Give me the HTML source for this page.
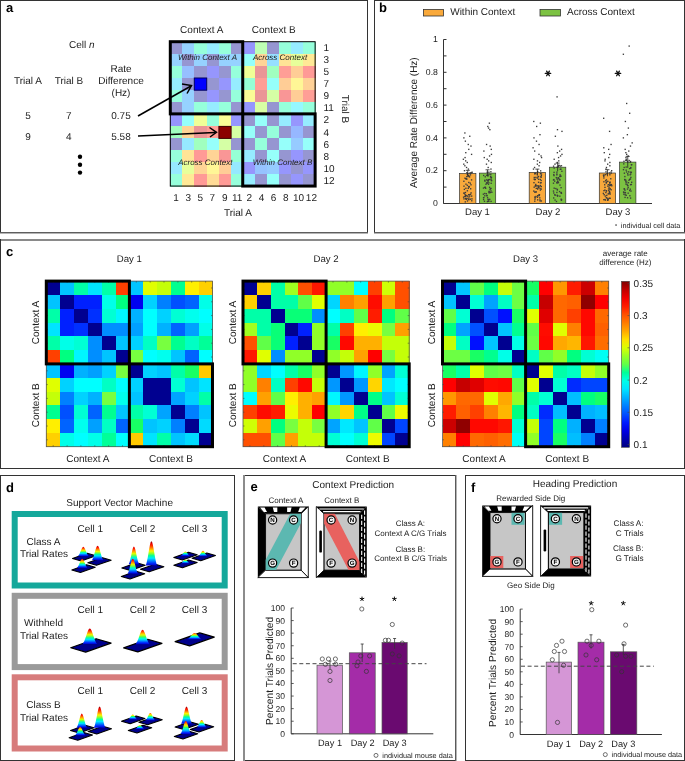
<!DOCTYPE html>
<html><head><meta charset="utf-8"><title>Figure</title>
<style>
html,body{margin:0;padding:0;background:#fff;}
body{width:685px;height:761px;overflow:hidden;}
svg{display:block;will-change:transform;}
svg text{font-family:"Liberation Sans",sans-serif;text-rendering:geometricPrecision;}
</style></head>
<body>
<svg width="685" height="761" viewBox="0 0 685 761" font-family="Liberation Sans, sans-serif" fill="#1c1c1c">
<rect x="0" y="0" width="368" height="1" fill="#333"/>
<rect x="0" y="0" width="1" height="233" fill="#333"/>
<rect x="367" y="0" width="1" height="233" fill="#333"/>
<rect x="0" y="232" width="368" height="1" fill="#5e5e5e"/>
<rect x="0" y="233" width="368" height="1" fill="#b4b4b4"/>
<rect x="374" y="0" width="311" height="1" fill="#333"/>
<rect x="374" y="0" width="1" height="233" fill="#333"/>
<rect x="684" y="0" width="1" height="233" fill="#333"/>
<rect x="374" y="232" width="311" height="1" fill="#5e5e5e"/>
<rect x="374" y="233" width="311" height="1" fill="#b4b4b4"/>
<rect x="0" y="239" width="685" height="2" fill="#8a8a8a"/>
<rect x="0" y="239" width="1" height="230" fill="#333"/>
<rect x="684" y="239" width="1" height="230" fill="#333"/>
<rect x="0" y="468" width="685" height="1" fill="#333"/>
<rect x="0.50" y="475.50" width="234.00" height="285.00" fill="none" stroke="#333" stroke-width="1"/>
<rect x="243" y="475" width="213" height="1" fill="#333"/>
<rect x="243" y="760" width="213" height="1" fill="#333"/>
<rect x="243" y="475" width="2" height="286" fill="#8c8c8c"/>
<rect x="455" y="475" width="1" height="286" fill="#5a5a5a"/>
<rect x="456" y="475" width="1" height="286" fill="#b4b4b4"/>
<rect x="465.50" y="475.50" width="219.00" height="285.00" fill="none" stroke="#333" stroke-width="1"/>
<text x="6" y="12" font-size="13" font-weight="bold" fill="#000">a</text>
<text x="379" y="12" font-size="13" font-weight="bold" fill="#000">b</text>
<text x="6" y="255.5" font-size="13" font-weight="bold" fill="#000">c</text>
<text x="6" y="491.8" font-size="13" font-weight="bold" fill="#000">d</text>
<text x="250.5" y="490.8" font-size="13" font-weight="bold" fill="#000">e</text>
<text x="471" y="491.8" font-size="13" font-weight="bold" fill="#000">f</text>
<text x="69" y="48" font-size="10">Cell <tspan font-style="italic">n</tspan></text>
<text x="121" y="71.5" font-size="10" text-anchor="middle">Rate</text>
<text x="121" y="83.8" font-size="10" text-anchor="middle">Difference</text>
<text x="121" y="96" font-size="10" text-anchor="middle">(Hz)</text>
<text x="28" y="83.8" font-size="10" text-anchor="middle">Trial A</text>
<text x="69" y="83.8" font-size="10" text-anchor="middle">Trial B</text>
<text x="28" y="119" font-size="10" text-anchor="middle">5</text>
<text x="68.7" y="119" font-size="10" text-anchor="middle">7</text>
<text x="121" y="119" font-size="10" text-anchor="middle">0.75</text>
<text x="28" y="139.5" font-size="10" text-anchor="middle">9</text>
<text x="68.7" y="139.5" font-size="10" text-anchor="middle">4</text>
<text x="121" y="139.5" font-size="10" text-anchor="middle">5.58</text>
<circle cx="80" cy="156.7" r="2.2" fill="#000"/>
<circle cx="80" cy="164.7" r="2.2" fill="#000"/>
<circle cx="80" cy="172.6" r="2.2" fill="#000"/>
<rect x="170.30" y="41.70" width="12.57" height="12.53" fill="#9696d1" shape-rendering="crispEdges"/>
<rect x="182.37" y="41.70" width="12.57" height="12.53" fill="#96d2ff" shape-rendering="crispEdges"/>
<rect x="194.44" y="41.70" width="12.57" height="12.53" fill="#96ffdb" shape-rendering="crispEdges"/>
<rect x="206.51" y="41.70" width="12.57" height="12.53" fill="#96ecff" shape-rendering="crispEdges"/>
<rect x="218.58" y="41.70" width="12.57" height="12.53" fill="#96ffdb" shape-rendering="crispEdges"/>
<rect x="230.65" y="41.70" width="12.57" height="12.53" fill="#9696d1" shape-rendering="crispEdges"/>
<rect x="170.30" y="53.73" width="12.57" height="12.53" fill="#96d2ff" shape-rendering="crispEdges"/>
<rect x="182.37" y="53.73" width="12.57" height="12.53" fill="#9696d1" shape-rendering="crispEdges"/>
<rect x="194.44" y="53.73" width="12.57" height="12.53" fill="#96d2ff" shape-rendering="crispEdges"/>
<rect x="206.51" y="53.73" width="12.57" height="12.53" fill="#9696d1" shape-rendering="crispEdges"/>
<rect x="218.58" y="53.73" width="12.57" height="12.53" fill="#96d2ff" shape-rendering="crispEdges"/>
<rect x="230.65" y="53.73" width="12.57" height="12.53" fill="#96d2ff" shape-rendering="crispEdges"/>
<rect x="170.30" y="65.76" width="12.57" height="12.53" fill="#96ffdb" shape-rendering="crispEdges"/>
<rect x="182.37" y="65.76" width="12.57" height="12.53" fill="#96bfff" shape-rendering="crispEdges"/>
<rect x="194.44" y="65.76" width="12.57" height="12.53" fill="#9696d1" shape-rendering="crispEdges"/>
<rect x="206.51" y="65.76" width="12.57" height="12.53" fill="#9696fd" shape-rendering="crispEdges"/>
<rect x="218.58" y="65.76" width="12.57" height="12.53" fill="#9696d1" shape-rendering="crispEdges"/>
<rect x="230.65" y="65.76" width="12.57" height="12.53" fill="#96ffdb" shape-rendering="crispEdges"/>
<rect x="170.30" y="77.79" width="12.57" height="12.53" fill="#96ecff" shape-rendering="crispEdges"/>
<rect x="182.37" y="77.79" width="12.57" height="12.53" fill="#9696d1" shape-rendering="crispEdges"/>
<rect x="194.44" y="77.79" width="12.57" height="12.53" fill="#9696ff" shape-rendering="crispEdges"/>
<rect x="206.51" y="77.79" width="12.57" height="12.53" fill="#9696d1" shape-rendering="crispEdges"/>
<rect x="218.58" y="77.79" width="12.57" height="12.53" fill="#9696fd" shape-rendering="crispEdges"/>
<rect x="230.65" y="77.79" width="12.57" height="12.53" fill="#96ecff" shape-rendering="crispEdges"/>
<rect x="170.30" y="89.82" width="12.57" height="12.53" fill="#96ffdb" shape-rendering="crispEdges"/>
<rect x="182.37" y="89.82" width="12.57" height="12.53" fill="#96d2ff" shape-rendering="crispEdges"/>
<rect x="194.44" y="89.82" width="12.57" height="12.53" fill="#9696d1" shape-rendering="crispEdges"/>
<rect x="206.51" y="89.82" width="12.57" height="12.53" fill="#9696fd" shape-rendering="crispEdges"/>
<rect x="218.58" y="89.82" width="12.57" height="12.53" fill="#9696d1" shape-rendering="crispEdges"/>
<rect x="230.65" y="89.82" width="12.57" height="12.53" fill="#96ffdb" shape-rendering="crispEdges"/>
<rect x="170.30" y="101.85" width="12.57" height="12.53" fill="#9696d1" shape-rendering="crispEdges"/>
<rect x="182.37" y="101.85" width="12.57" height="12.53" fill="#96d2ff" shape-rendering="crispEdges"/>
<rect x="194.44" y="101.85" width="12.57" height="12.53" fill="#96ffdb" shape-rendering="crispEdges"/>
<rect x="206.51" y="101.85" width="12.57" height="12.53" fill="#96ecff" shape-rendering="crispEdges"/>
<rect x="218.58" y="101.85" width="12.57" height="12.53" fill="#96ffdb" shape-rendering="crispEdges"/>
<rect x="230.65" y="101.85" width="12.57" height="12.53" fill="#9696d1" shape-rendering="crispEdges"/>
<rect x="242.72" y="41.70" width="12.57" height="12.53" fill="#9696fd" shape-rendering="crispEdges"/>
<rect x="254.79" y="41.70" width="12.57" height="12.53" fill="#beffb4" shape-rendering="crispEdges"/>
<rect x="266.86" y="41.70" width="12.57" height="12.53" fill="#9696d1" shape-rendering="crispEdges"/>
<rect x="278.93" y="41.70" width="12.57" height="12.53" fill="#96ffdb" shape-rendering="crispEdges"/>
<rect x="291.00" y="41.70" width="12.57" height="12.53" fill="#96ecff" shape-rendering="crispEdges"/>
<rect x="303.07" y="41.70" width="12.57" height="12.53" fill="#96ffdb" shape-rendering="crispEdges"/>
<rect x="242.72" y="53.73" width="12.57" height="12.53" fill="#96fffa" shape-rendering="crispEdges"/>
<rect x="254.79" y="53.73" width="12.57" height="12.53" fill="#ffd496" shape-rendering="crispEdges"/>
<rect x="266.86" y="53.73" width="12.57" height="12.53" fill="#96dfff" shape-rendering="crispEdges"/>
<rect x="278.93" y="53.73" width="12.57" height="12.53" fill="#ffe496" shape-rendering="crispEdges"/>
<rect x="291.00" y="53.73" width="12.57" height="12.53" fill="#e7ff9a" shape-rendering="crispEdges"/>
<rect x="303.07" y="53.73" width="12.57" height="12.53" fill="#ffe996" shape-rendering="crispEdges"/>
<rect x="242.72" y="65.76" width="12.57" height="12.53" fill="#f0ff97" shape-rendering="crispEdges"/>
<rect x="254.79" y="65.76" width="12.57" height="12.53" fill="#ea9696" shape-rendering="crispEdges"/>
<rect x="266.86" y="65.76" width="12.57" height="12.53" fill="#a0ffbf" shape-rendering="crispEdges"/>
<rect x="278.93" y="65.76" width="12.57" height="12.53" fill="#ff9e96" shape-rendering="crispEdges"/>
<rect x="291.00" y="65.76" width="12.57" height="12.53" fill="#ffcd96" shape-rendering="crispEdges"/>
<rect x="303.07" y="65.76" width="12.57" height="12.53" fill="#ff9a96" shape-rendering="crispEdges"/>
<rect x="242.72" y="77.79" width="12.57" height="12.53" fill="#96ffd5" shape-rendering="crispEdges"/>
<rect x="254.79" y="77.79" width="12.57" height="12.53" fill="#ff9e96" shape-rendering="crispEdges"/>
<rect x="266.86" y="77.79" width="12.57" height="12.53" fill="#96fffa" shape-rendering="crispEdges"/>
<rect x="278.93" y="77.79" width="12.57" height="12.53" fill="#ffcd96" shape-rendering="crispEdges"/>
<rect x="291.00" y="77.79" width="12.57" height="12.53" fill="#fff696" shape-rendering="crispEdges"/>
<rect x="303.07" y="77.79" width="12.57" height="12.53" fill="#ffd196" shape-rendering="crispEdges"/>
<rect x="242.72" y="89.82" width="12.57" height="12.53" fill="#fafc96" shape-rendering="crispEdges"/>
<rect x="254.79" y="89.82" width="12.57" height="12.53" fill="#ea9696" shape-rendering="crispEdges"/>
<rect x="266.86" y="89.82" width="12.57" height="12.53" fill="#d5ffa5" shape-rendering="crispEdges"/>
<rect x="278.93" y="89.82" width="12.57" height="12.53" fill="#f99696" shape-rendering="crispEdges"/>
<rect x="291.00" y="89.82" width="12.57" height="12.53" fill="#ffcd96" shape-rendering="crispEdges"/>
<rect x="303.07" y="89.82" width="12.57" height="12.53" fill="#ff9e96" shape-rendering="crispEdges"/>
<rect x="242.72" y="101.85" width="12.57" height="12.53" fill="#9696fd" shape-rendering="crispEdges"/>
<rect x="254.79" y="101.85" width="12.57" height="12.53" fill="#d8ffa4" shape-rendering="crispEdges"/>
<rect x="266.86" y="101.85" width="12.57" height="12.53" fill="#9696d1" shape-rendering="crispEdges"/>
<rect x="278.93" y="101.85" width="12.57" height="12.53" fill="#96ffdb" shape-rendering="crispEdges"/>
<rect x="291.00" y="101.85" width="12.57" height="12.53" fill="#96f8ff" shape-rendering="crispEdges"/>
<rect x="303.07" y="101.85" width="12.57" height="12.53" fill="#96ffdb" shape-rendering="crispEdges"/>
<rect x="170.30" y="113.88" width="12.57" height="12.53" fill="#9696fd" shape-rendering="crispEdges"/>
<rect x="182.37" y="113.88" width="12.57" height="12.53" fill="#96fffa" shape-rendering="crispEdges"/>
<rect x="194.44" y="113.88" width="12.57" height="12.53" fill="#f0ff97" shape-rendering="crispEdges"/>
<rect x="206.51" y="113.88" width="12.57" height="12.53" fill="#96ffdb" shape-rendering="crispEdges"/>
<rect x="218.58" y="113.88" width="12.57" height="12.53" fill="#fafc96" shape-rendering="crispEdges"/>
<rect x="230.65" y="113.88" width="12.57" height="12.53" fill="#9696fd" shape-rendering="crispEdges"/>
<rect x="170.30" y="125.91" width="12.57" height="12.53" fill="#a0ffbf" shape-rendering="crispEdges"/>
<rect x="182.37" y="125.91" width="12.57" height="12.53" fill="#ffd496" shape-rendering="crispEdges"/>
<rect x="194.44" y="125.91" width="12.57" height="12.53" fill="#ea9696" shape-rendering="crispEdges"/>
<rect x="206.51" y="125.91" width="12.57" height="12.53" fill="#ff9e96" shape-rendering="crispEdges"/>
<rect x="218.58" y="125.91" width="12.57" height="12.53" fill="#d19696" shape-rendering="crispEdges"/>
<rect x="230.65" y="125.91" width="12.57" height="12.53" fill="#d5ffa5" shape-rendering="crispEdges"/>
<rect x="170.30" y="137.94" width="12.57" height="12.53" fill="#9696d1" shape-rendering="crispEdges"/>
<rect x="182.37" y="137.94" width="12.57" height="12.53" fill="#96e9ff" shape-rendering="crispEdges"/>
<rect x="194.44" y="137.94" width="12.57" height="12.53" fill="#a0ffbf" shape-rendering="crispEdges"/>
<rect x="206.51" y="137.94" width="12.57" height="12.53" fill="#96fffa" shape-rendering="crispEdges"/>
<rect x="218.58" y="137.94" width="12.57" height="12.53" fill="#d5ffa5" shape-rendering="crispEdges"/>
<rect x="230.65" y="137.94" width="12.57" height="12.53" fill="#9696d1" shape-rendering="crispEdges"/>
<rect x="170.30" y="149.97" width="12.57" height="12.53" fill="#96ffdb" shape-rendering="crispEdges"/>
<rect x="182.37" y="149.97" width="12.57" height="12.53" fill="#ffe496" shape-rendering="crispEdges"/>
<rect x="194.44" y="149.97" width="12.57" height="12.53" fill="#ff9a96" shape-rendering="crispEdges"/>
<rect x="206.51" y="149.97" width="12.57" height="12.53" fill="#ffd496" shape-rendering="crispEdges"/>
<rect x="218.58" y="149.97" width="12.57" height="12.53" fill="#f99696" shape-rendering="crispEdges"/>
<rect x="230.65" y="149.97" width="12.57" height="12.53" fill="#96ffd5" shape-rendering="crispEdges"/>
<rect x="170.30" y="162.00" width="12.57" height="12.53" fill="#96e9ff" shape-rendering="crispEdges"/>
<rect x="182.37" y="162.00" width="12.57" height="12.53" fill="#e7ff9a" shape-rendering="crispEdges"/>
<rect x="194.44" y="162.00" width="12.57" height="12.53" fill="#ffd496" shape-rendering="crispEdges"/>
<rect x="206.51" y="162.00" width="12.57" height="12.53" fill="#fff696" shape-rendering="crispEdges"/>
<rect x="218.58" y="162.00" width="12.57" height="12.53" fill="#ffcd96" shape-rendering="crispEdges"/>
<rect x="230.65" y="162.00" width="12.57" height="12.53" fill="#96e9ff" shape-rendering="crispEdges"/>
<rect x="170.30" y="174.03" width="12.57" height="12.53" fill="#96ffdb" shape-rendering="crispEdges"/>
<rect x="182.37" y="174.03" width="12.57" height="12.53" fill="#ffe996" shape-rendering="crispEdges"/>
<rect x="194.44" y="174.03" width="12.57" height="12.53" fill="#ff9a96" shape-rendering="crispEdges"/>
<rect x="206.51" y="174.03" width="12.57" height="12.53" fill="#ffdb96" shape-rendering="crispEdges"/>
<rect x="218.58" y="174.03" width="12.57" height="12.53" fill="#ff9a96" shape-rendering="crispEdges"/>
<rect x="230.65" y="174.03" width="12.57" height="12.53" fill="#96ffdb" shape-rendering="crispEdges"/>
<rect x="242.72" y="113.88" width="12.57" height="12.53" fill="#9696d1" shape-rendering="crispEdges"/>
<rect x="254.79" y="113.88" width="12.57" height="12.53" fill="#96fffa" shape-rendering="crispEdges"/>
<rect x="266.86" y="113.88" width="12.57" height="12.53" fill="#9696d1" shape-rendering="crispEdges"/>
<rect x="278.93" y="113.88" width="12.57" height="12.53" fill="#96ecff" shape-rendering="crispEdges"/>
<rect x="291.00" y="113.88" width="12.57" height="12.53" fill="#9696fd" shape-rendering="crispEdges"/>
<rect x="303.07" y="113.88" width="12.57" height="12.53" fill="#96ecff" shape-rendering="crispEdges"/>
<rect x="242.72" y="125.91" width="12.57" height="12.53" fill="#96fffa" shape-rendering="crispEdges"/>
<rect x="254.79" y="125.91" width="12.57" height="12.53" fill="#9696d1" shape-rendering="crispEdges"/>
<rect x="266.86" y="125.91" width="12.57" height="12.53" fill="#96ffdb" shape-rendering="crispEdges"/>
<rect x="278.93" y="125.91" width="12.57" height="12.53" fill="#9696d1" shape-rendering="crispEdges"/>
<rect x="291.00" y="125.91" width="12.57" height="12.53" fill="#96b7ff" shape-rendering="crispEdges"/>
<rect x="303.07" y="125.91" width="12.57" height="12.53" fill="#9696d1" shape-rendering="crispEdges"/>
<rect x="242.72" y="137.94" width="12.57" height="12.53" fill="#9696d1" shape-rendering="crispEdges"/>
<rect x="254.79" y="137.94" width="12.57" height="12.53" fill="#96ffdb" shape-rendering="crispEdges"/>
<rect x="266.86" y="137.94" width="12.57" height="12.53" fill="#9696d1" shape-rendering="crispEdges"/>
<rect x="278.93" y="137.94" width="12.57" height="12.53" fill="#96fffa" shape-rendering="crispEdges"/>
<rect x="291.00" y="137.94" width="12.57" height="12.53" fill="#96cbff" shape-rendering="crispEdges"/>
<rect x="303.07" y="137.94" width="12.57" height="12.53" fill="#96fffa" shape-rendering="crispEdges"/>
<rect x="242.72" y="149.97" width="12.57" height="12.53" fill="#96ecff" shape-rendering="crispEdges"/>
<rect x="254.79" y="149.97" width="12.57" height="12.53" fill="#9696d1" shape-rendering="crispEdges"/>
<rect x="266.86" y="149.97" width="12.57" height="12.53" fill="#96fffa" shape-rendering="crispEdges"/>
<rect x="278.93" y="149.97" width="12.57" height="12.53" fill="#9696d1" shape-rendering="crispEdges"/>
<rect x="291.00" y="149.97" width="12.57" height="12.53" fill="#9696fd" shape-rendering="crispEdges"/>
<rect x="303.07" y="149.97" width="12.57" height="12.53" fill="#9696d1" shape-rendering="crispEdges"/>
<rect x="242.72" y="162.00" width="12.57" height="12.53" fill="#9696fd" shape-rendering="crispEdges"/>
<rect x="254.79" y="162.00" width="12.57" height="12.53" fill="#96c3ff" shape-rendering="crispEdges"/>
<rect x="266.86" y="162.00" width="12.57" height="12.53" fill="#96cbff" shape-rendering="crispEdges"/>
<rect x="278.93" y="162.00" width="12.57" height="12.53" fill="#9696fd" shape-rendering="crispEdges"/>
<rect x="291.00" y="162.00" width="12.57" height="12.53" fill="#9696d1" shape-rendering="crispEdges"/>
<rect x="303.07" y="162.00" width="12.57" height="12.53" fill="#9696fd" shape-rendering="crispEdges"/>
<rect x="242.72" y="174.03" width="12.57" height="12.53" fill="#96ecff" shape-rendering="crispEdges"/>
<rect x="254.79" y="174.03" width="12.57" height="12.53" fill="#9696d1" shape-rendering="crispEdges"/>
<rect x="266.86" y="174.03" width="12.57" height="12.53" fill="#96fffa" shape-rendering="crispEdges"/>
<rect x="278.93" y="174.03" width="12.57" height="12.53" fill="#9696d1" shape-rendering="crispEdges"/>
<rect x="291.00" y="174.03" width="12.57" height="12.53" fill="#9696fd" shape-rendering="crispEdges"/>
<rect x="303.07" y="174.03" width="12.57" height="12.53" fill="#9696d1" shape-rendering="crispEdges"/>
<rect x="194.30" y="78.00" width="12.40" height="12.20" fill="#0000ff" stroke="#000060" stroke-width="1"/>
<rect x="218.90" y="126.40" width="12.20" height="12.00" fill="#8b0000" stroke="#400000" stroke-width="1"/>
<rect x="170.30" y="41.70" width="144.84" height="144.36" fill="none" stroke="#000" stroke-width="1"/>
<rect x="170.30" y="41.70" width="72.42" height="72.18" fill="none" stroke="#000" stroke-width="3"/>
<rect x="242.72" y="113.88" width="72.42" height="72.18" fill="none" stroke="#000" stroke-width="3"/>
<text x="207.5" y="60" font-size="8" text-anchor="middle" font-style="italic">Within Context A</text>
<text x="280" y="60" font-size="8" text-anchor="middle" font-style="italic">Across Context</text>
<text x="205.3" y="165" font-size="8" text-anchor="middle" font-style="italic">Across Context</text>
<text x="282.6" y="165" font-size="8" text-anchor="middle" font-style="italic">Within Context B</text>
<g stroke="#000" stroke-width="1.5" fill="none"><line x1="138" y1="116" x2="191" y2="86"/><polyline points="182,84 191.5,85.6 187,93.5"/><line x1="138" y1="136" x2="215" y2="132.5"/><polyline points="209.5,127.5 216.5,132.3 210,137"/></g>
<text x="201.8" y="33.2" font-size="10" text-anchor="middle">Context A</text>
<text x="273.8" y="33.2" font-size="10" text-anchor="middle">Context B</text>
<text x="323.4" y="51.315000000000005" font-size="10">1</text>
<text x="323.4" y="63.345000000000006" font-size="10">3</text>
<text x="323.4" y="75.375" font-size="10">5</text>
<text x="323.4" y="87.405" font-size="10">7</text>
<text x="323.4" y="99.435" font-size="10">9</text>
<text x="323.4" y="111.46499999999999" font-size="10">11</text>
<text x="323.4" y="123.49499999999999" font-size="10">2</text>
<text x="323.4" y="135.525" font-size="10">4</text>
<text x="323.4" y="147.55499999999998" font-size="10">6</text>
<text x="323.4" y="159.585" font-size="10">8</text>
<text x="323.4" y="171.61499999999998" font-size="10">10</text>
<text x="323.4" y="183.645" font-size="10">12</text>
<text x="345.5" y="109" font-size="10" text-anchor="middle" transform="rotate(90 345.5 109)" dy="3.5">Trial B</text>
<text x="176" y="201.2" font-size="10" text-anchor="middle">1</text>
<text x="188.2" y="201.2" font-size="10" text-anchor="middle">3</text>
<text x="200.2" y="201.2" font-size="10" text-anchor="middle">5</text>
<text x="212.4" y="201.2" font-size="10" text-anchor="middle">7</text>
<text x="224.8" y="201.2" font-size="10" text-anchor="middle">9</text>
<text x="237.2" y="201.2" font-size="10" text-anchor="middle">11</text>
<text x="249.2" y="201.2" font-size="10" text-anchor="middle">2</text>
<text x="261.6" y="201.2" font-size="10" text-anchor="middle">4</text>
<text x="273.6" y="201.2" font-size="10" text-anchor="middle">6</text>
<text x="285.9" y="201.2" font-size="10" text-anchor="middle">8</text>
<text x="298.5" y="201.2" font-size="10" text-anchor="middle">10</text>
<text x="311.4" y="201.2" font-size="10" text-anchor="middle">12</text>
<text x="238" y="216.3" font-size="10" text-anchor="middle">Trial A</text>
<rect x="423.50" y="9.50" width="20.00" height="6.50" fill="#f9a93b" stroke="#333" stroke-width="0.8"/>
<text x="450.2" y="15.3" font-size="10">Within Context</text>
<rect x="540.00" y="9.50" width="20.50" height="6.50" fill="#7cc242" stroke="#333" stroke-width="0.8"/>
<text x="567" y="15.3" font-size="10">Across Context</text>
<line x1="443.50" y1="39.50" x2="443.50" y2="203.50" stroke="#333" stroke-width="1" />
<line x1="443.50" y1="203.50" x2="652.00" y2="203.50" stroke="#333" stroke-width="1" />
<line x1="443.50" y1="203.50" x2="446.50" y2="203.50" stroke="#333" stroke-width="1" />
<line x1="443.50" y1="187.10" x2="446.50" y2="187.10" stroke="#333" stroke-width="1" />
<line x1="443.50" y1="170.70" x2="446.50" y2="170.70" stroke="#333" stroke-width="1" />
<line x1="443.50" y1="154.30" x2="446.50" y2="154.30" stroke="#333" stroke-width="1" />
<line x1="443.50" y1="137.90" x2="446.50" y2="137.90" stroke="#333" stroke-width="1" />
<line x1="443.50" y1="121.50" x2="446.50" y2="121.50" stroke="#333" stroke-width="1" />
<line x1="443.50" y1="105.10" x2="446.50" y2="105.10" stroke="#333" stroke-width="1" />
<line x1="443.50" y1="88.70" x2="446.50" y2="88.70" stroke="#333" stroke-width="1" />
<line x1="443.50" y1="72.30" x2="446.50" y2="72.30" stroke="#333" stroke-width="1" />
<line x1="443.50" y1="55.90" x2="446.50" y2="55.90" stroke="#333" stroke-width="1" />
<line x1="443.50" y1="39.50" x2="446.50" y2="39.50" stroke="#333" stroke-width="1" />
<text x="437.9" y="42.1" font-size="8.7" text-anchor="end">1</text>
<text x="437.9" y="74.89999999999998" font-size="8.7" text-anchor="end">0.8</text>
<text x="437.9" y="107.7" font-size="8.7" text-anchor="end">0.6</text>
<text x="437.9" y="140.49999999999997" font-size="8.7" text-anchor="end">0.4</text>
<text x="437.9" y="173.29999999999998" font-size="8.7" text-anchor="end">0.2</text>
<text x="437.9" y="206.1" font-size="8.7" text-anchor="end">0</text>
<text x="413.5" y="122.7" font-size="10" text-anchor="middle" transform="rotate(-90 413.5 122.7)" dy="3.5">Average Rate Difference (Hz)</text>
<rect x="459.60" y="173.60" width="16.30" height="29.90" fill="#f9a93b" stroke="#333" stroke-width="0.7"/>
<rect x="479.40" y="173.10" width="16.30" height="30.40" fill="#7cc242" stroke="#333" stroke-width="0.7"/>
<rect x="529.20" y="172.40" width="16.30" height="31.10" fill="#f9a93b" stroke="#333" stroke-width="0.7"/>
<rect x="549.50" y="167.20" width="16.30" height="36.30" fill="#7cc242" stroke="#333" stroke-width="0.7"/>
<rect x="599.30" y="173.00" width="16.30" height="30.50" fill="#f9a93b" stroke="#333" stroke-width="0.7"/>
<rect x="619.60" y="162.10" width="16.30" height="41.40" fill="#7cc242" stroke="#333" stroke-width="0.7"/>
<g fill="#3c3c3c"><rect x="467.6" y="187.7" width="1.35" height="1.35"/><rect x="466.8" y="173.7" width="1.35" height="1.35"/><rect x="467.9" y="186.1" width="1.35" height="1.35"/><rect x="467.2" y="195.7" width="1.35" height="1.35"/><rect x="469.6" y="182.5" width="1.35" height="1.35"/><rect x="465.4" y="198.4" width="1.35" height="1.35"/><rect x="469.8" y="198.5" width="1.35" height="1.35"/><rect x="463.2" y="180.6" width="1.35" height="1.35"/><rect x="471.1" y="172.0" width="1.35" height="1.35"/><rect x="468.1" y="181.8" width="1.35" height="1.35"/><rect x="462.9" y="196.5" width="1.35" height="1.35"/><rect x="463.3" y="185.5" width="1.35" height="1.35"/><rect x="464.9" y="195.6" width="1.35" height="1.35"/><rect x="466.8" y="200.3" width="1.35" height="1.35"/><rect x="470.0" y="188.1" width="1.35" height="1.35"/><rect x="468.3" y="185.8" width="1.35" height="1.35"/><rect x="468.5" y="186.3" width="1.35" height="1.35"/><rect x="465.2" y="187.6" width="1.35" height="1.35"/><rect x="471.4" y="171.5" width="1.35" height="1.35"/><rect x="468.9" y="176.2" width="1.35" height="1.35"/><rect x="464.8" y="191.8" width="1.35" height="1.35"/><rect x="463.4" y="192.6" width="1.35" height="1.35"/><rect x="466.2" y="178.4" width="1.35" height="1.35"/><rect x="466.1" y="176.0" width="1.35" height="1.35"/><rect x="470.1" y="172.7" width="1.35" height="1.35"/><rect x="464.6" y="201.2" width="1.35" height="1.35"/><rect x="466.8" y="174.1" width="1.35" height="1.35"/><rect x="466.2" y="172.0" width="1.35" height="1.35"/><rect x="468.2" y="199.0" width="1.35" height="1.35"/><rect x="465.1" y="178.0" width="1.35" height="1.35"/><rect x="465.7" y="198.6" width="1.35" height="1.35"/><rect x="469.3" y="172.5" width="1.35" height="1.35"/><rect x="464.9" y="197.7" width="1.35" height="1.35"/><rect x="463.3" y="198.2" width="1.35" height="1.35"/><rect x="464.3" y="177.5" width="1.35" height="1.35"/><rect x="466.6" y="184.6" width="1.35" height="1.35"/><rect x="469.1" y="195.5" width="1.35" height="1.35"/><rect x="468.3" y="197.3" width="1.35" height="1.35"/><rect x="466.4" y="197.7" width="1.35" height="1.35"/><rect x="465.1" y="194.9" width="1.35" height="1.35"/><rect x="469.7" y="172.3" width="1.35" height="1.35"/><rect x="470.4" y="192.2" width="1.35" height="1.35"/><rect x="466.2" y="194.9" width="1.35" height="1.35"/><rect x="468.3" y="175.8" width="1.35" height="1.35"/><rect x="471.3" y="198.2" width="1.35" height="1.35"/><rect x="465.0" y="194.9" width="1.35" height="1.35"/><rect x="465.6" y="178.2" width="1.35" height="1.35"/><rect x="463.4" y="192.4" width="1.35" height="1.35"/><rect x="467.8" y="198.5" width="1.35" height="1.35"/><rect x="468.0" y="194.0" width="1.35" height="1.35"/><rect x="466.7" y="190.1" width="1.35" height="1.35"/><rect x="467.0" y="172.7" width="1.35" height="1.35"/><rect x="470.3" y="184.1" width="1.35" height="1.35"/><rect x="464.1" y="195.8" width="1.35" height="1.35"/><rect x="469.8" y="174.2" width="1.35" height="1.35"/><rect x="464.4" y="193.8" width="1.35" height="1.35"/><rect x="470.9" y="179.2" width="1.35" height="1.35"/><rect x="471.0" y="195.4" width="1.35" height="1.35"/><rect x="468.0" y="175.0" width="1.35" height="1.35"/><rect x="463.7" y="188.7" width="1.35" height="1.35"/><rect x="471.1" y="200.1" width="1.35" height="1.35"/><rect x="468.9" y="194.1" width="1.35" height="1.35"/><rect x="469.9" y="193.6" width="1.35" height="1.35"/><rect x="465.3" y="183.5" width="1.35" height="1.35"/><rect x="464.2" y="132.3" width="1.35" height="1.35"/><rect x="469.1" y="135.6" width="1.35" height="1.35"/><rect x="463.2" y="137.2" width="1.35" height="1.35"/><rect x="464.7" y="140.5" width="1.35" height="1.35"/><rect x="467.6" y="143.8" width="1.35" height="1.35"/><rect x="470.3" y="145.4" width="1.35" height="1.35"/><rect x="468.1" y="148.7" width="1.35" height="1.35"/><rect x="465.1" y="152.0" width="1.35" height="1.35"/><rect x="470.9" y="153.7" width="1.35" height="1.35"/><rect x="464.4" y="156.9" width="1.35" height="1.35"/><rect x="462.7" y="158.6" width="1.35" height="1.35"/><rect x="465.0" y="160.2" width="1.35" height="1.35"/><rect x="466.6" y="161.8" width="1.35" height="1.35"/><rect x="463.1" y="163.5" width="1.35" height="1.35"/><rect x="464.2" y="165.1" width="1.35" height="1.35"/><rect x="465.9" y="166.8" width="1.35" height="1.35"/><rect x="467.7" y="168.4" width="1.35" height="1.35"/><rect x="463.8" y="170.0" width="1.35" height="1.35"/><rect x="490.3" y="190.2" width="1.35" height="1.35"/><rect x="488.2" y="171.5" width="1.35" height="1.35"/><rect x="487.6" y="180.3" width="1.35" height="1.35"/><rect x="482.9" y="197.0" width="1.35" height="1.35"/><rect x="490.4" y="200.7" width="1.35" height="1.35"/><rect x="490.9" y="180.0" width="1.35" height="1.35"/><rect x="488.1" y="200.6" width="1.35" height="1.35"/><rect x="488.9" y="186.6" width="1.35" height="1.35"/><rect x="491.2" y="191.6" width="1.35" height="1.35"/><rect x="487.3" y="198.9" width="1.35" height="1.35"/><rect x="490.3" y="178.9" width="1.35" height="1.35"/><rect x="488.7" y="178.9" width="1.35" height="1.35"/><rect x="490.5" y="177.2" width="1.35" height="1.35"/><rect x="488.5" y="190.6" width="1.35" height="1.35"/><rect x="490.1" y="173.9" width="1.35" height="1.35"/><rect x="489.4" y="188.6" width="1.35" height="1.35"/><rect x="487.5" y="175.1" width="1.35" height="1.35"/><rect x="485.9" y="182.3" width="1.35" height="1.35"/><rect x="487.8" y="183.6" width="1.35" height="1.35"/><rect x="488.1" y="198.8" width="1.35" height="1.35"/><rect x="490.2" y="171.1" width="1.35" height="1.35"/><rect x="485.9" y="179.2" width="1.35" height="1.35"/><rect x="487.6" y="179.0" width="1.35" height="1.35"/><rect x="489.8" y="187.9" width="1.35" height="1.35"/><rect x="489.1" y="198.7" width="1.35" height="1.35"/><rect x="487.8" y="200.3" width="1.35" height="1.35"/><rect x="484.6" y="186.6" width="1.35" height="1.35"/><rect x="486.9" y="180.1" width="1.35" height="1.35"/><rect x="490.5" y="182.6" width="1.35" height="1.35"/><rect x="482.7" y="193.5" width="1.35" height="1.35"/><rect x="488.4" y="192.1" width="1.35" height="1.35"/><rect x="484.1" y="195.1" width="1.35" height="1.35"/><rect x="488.3" y="173.8" width="1.35" height="1.35"/><rect x="490.3" y="187.8" width="1.35" height="1.35"/><rect x="488.3" y="191.3" width="1.35" height="1.35"/><rect x="486.3" y="195.2" width="1.35" height="1.35"/><rect x="490.5" y="176.8" width="1.35" height="1.35"/><rect x="485.9" y="174.6" width="1.35" height="1.35"/><rect x="485.3" y="183.6" width="1.35" height="1.35"/><rect x="486.9" y="197.1" width="1.35" height="1.35"/><rect x="489.9" y="175.9" width="1.35" height="1.35"/><rect x="490.8" y="179.7" width="1.35" height="1.35"/><rect x="484.1" y="192.8" width="1.35" height="1.35"/><rect x="485.0" y="187.6" width="1.35" height="1.35"/><rect x="486.2" y="194.7" width="1.35" height="1.35"/><rect x="486.8" y="182.3" width="1.35" height="1.35"/><rect x="489.8" y="191.7" width="1.35" height="1.35"/><rect x="486.5" y="171.5" width="1.35" height="1.35"/><rect x="482.9" y="198.9" width="1.35" height="1.35"/><rect x="483.0" y="174.8" width="1.35" height="1.35"/><rect x="487.5" y="179.8" width="1.35" height="1.35"/><rect x="489.4" y="191.9" width="1.35" height="1.35"/><rect x="483.8" y="200.6" width="1.35" height="1.35"/><rect x="482.8" y="187.4" width="1.35" height="1.35"/><rect x="484.6" y="176.1" width="1.35" height="1.35"/><rect x="483.0" y="196.9" width="1.35" height="1.35"/><rect x="486.4" y="182.2" width="1.35" height="1.35"/><rect x="488.2" y="182.1" width="1.35" height="1.35"/><rect x="490.8" y="176.8" width="1.35" height="1.35"/><rect x="484.3" y="180.5" width="1.35" height="1.35"/><rect x="484.1" y="186.8" width="1.35" height="1.35"/><rect x="486.7" y="200.9" width="1.35" height="1.35"/><rect x="484.1" y="179.6" width="1.35" height="1.35"/><rect x="485.6" y="193.0" width="1.35" height="1.35"/><rect x="488.7" y="122.5" width="1.35" height="1.35"/><rect x="487.1" y="125.8" width="1.35" height="1.35"/><rect x="487.9" y="127.4" width="1.35" height="1.35"/><rect x="489.2" y="129.0" width="1.35" height="1.35"/><rect x="485.9" y="143.8" width="1.35" height="1.35"/><rect x="489.5" y="145.4" width="1.35" height="1.35"/><rect x="490.6" y="148.7" width="1.35" height="1.35"/><rect x="483.2" y="150.4" width="1.35" height="1.35"/><rect x="490.8" y="153.7" width="1.35" height="1.35"/><rect x="488.9" y="155.3" width="1.35" height="1.35"/><rect x="483.6" y="156.9" width="1.35" height="1.35"/><rect x="486.5" y="158.6" width="1.35" height="1.35"/><rect x="488.0" y="160.2" width="1.35" height="1.35"/><rect x="490.6" y="161.8" width="1.35" height="1.35"/><rect x="485.8" y="163.5" width="1.35" height="1.35"/><rect x="487.5" y="166.8" width="1.35" height="1.35"/><rect x="490.3" y="168.4" width="1.35" height="1.35"/><rect x="540.5" y="176.5" width="1.35" height="1.35"/><rect x="538.0" y="186.8" width="1.35" height="1.35"/><rect x="538.6" y="194.9" width="1.35" height="1.35"/><rect x="537.9" y="175.8" width="1.35" height="1.35"/><rect x="534.2" y="179.0" width="1.35" height="1.35"/><rect x="540.8" y="173.3" width="1.35" height="1.35"/><rect x="537.0" y="170.9" width="1.35" height="1.35"/><rect x="535.2" y="176.7" width="1.35" height="1.35"/><rect x="539.8" y="173.0" width="1.35" height="1.35"/><rect x="533.1" y="190.4" width="1.35" height="1.35"/><rect x="537.1" y="187.5" width="1.35" height="1.35"/><rect x="536.6" y="177.4" width="1.35" height="1.35"/><rect x="539.4" y="200.3" width="1.35" height="1.35"/><rect x="539.3" y="199.2" width="1.35" height="1.35"/><rect x="535.3" y="195.8" width="1.35" height="1.35"/><rect x="533.6" y="176.8" width="1.35" height="1.35"/><rect x="536.8" y="196.6" width="1.35" height="1.35"/><rect x="539.6" y="178.8" width="1.35" height="1.35"/><rect x="540.5" y="179.8" width="1.35" height="1.35"/><rect x="540.6" y="185.9" width="1.35" height="1.35"/><rect x="534.3" y="198.5" width="1.35" height="1.35"/><rect x="534.9" y="184.9" width="1.35" height="1.35"/><rect x="537.9" y="178.6" width="1.35" height="1.35"/><rect x="539.7" y="185.0" width="1.35" height="1.35"/><rect x="535.1" y="183.8" width="1.35" height="1.35"/><rect x="539.7" y="189.4" width="1.35" height="1.35"/><rect x="534.2" y="173.3" width="1.35" height="1.35"/><rect x="540.7" y="174.8" width="1.35" height="1.35"/><rect x="537.3" y="185.0" width="1.35" height="1.35"/><rect x="537.0" y="195.0" width="1.35" height="1.35"/><rect x="537.6" y="185.6" width="1.35" height="1.35"/><rect x="540.7" y="200.3" width="1.35" height="1.35"/><rect x="535.8" y="185.2" width="1.35" height="1.35"/><rect x="537.2" y="176.4" width="1.35" height="1.35"/><rect x="538.3" y="186.0" width="1.35" height="1.35"/><rect x="537.0" y="199.2" width="1.35" height="1.35"/><rect x="540.6" y="188.4" width="1.35" height="1.35"/><rect x="534.7" y="172.6" width="1.35" height="1.35"/><rect x="533.5" y="186.5" width="1.35" height="1.35"/><rect x="539.4" y="187.8" width="1.35" height="1.35"/><rect x="536.5" y="173.3" width="1.35" height="1.35"/><rect x="534.0" y="191.4" width="1.35" height="1.35"/><rect x="540.4" y="182.0" width="1.35" height="1.35"/><rect x="539.1" y="197.2" width="1.35" height="1.35"/><rect x="534.1" y="200.5" width="1.35" height="1.35"/><rect x="538.3" y="194.2" width="1.35" height="1.35"/><rect x="535.5" y="191.2" width="1.35" height="1.35"/><rect x="533.3" y="182.0" width="1.35" height="1.35"/><rect x="533.5" y="178.5" width="1.35" height="1.35"/><rect x="534.6" y="185.4" width="1.35" height="1.35"/><rect x="537.0" y="195.1" width="1.35" height="1.35"/><rect x="535.6" y="187.7" width="1.35" height="1.35"/><rect x="537.0" y="188.4" width="1.35" height="1.35"/><rect x="534.2" y="196.3" width="1.35" height="1.35"/><rect x="537.9" y="181.6" width="1.35" height="1.35"/><rect x="539.7" y="184.8" width="1.35" height="1.35"/><rect x="539.8" y="182.2" width="1.35" height="1.35"/><rect x="538.8" y="194.0" width="1.35" height="1.35"/><rect x="540.2" y="176.1" width="1.35" height="1.35"/><rect x="535.1" y="191.4" width="1.35" height="1.35"/><rect x="534.3" y="172.6" width="1.35" height="1.35"/><rect x="540.0" y="170.2" width="1.35" height="1.35"/><rect x="534.5" y="197.1" width="1.35" height="1.35"/><rect x="534.6" y="178.7" width="1.35" height="1.35"/><rect x="533.1" y="120.8" width="1.35" height="1.35"/><rect x="539.7" y="122.5" width="1.35" height="1.35"/><rect x="536.0" y="125.8" width="1.35" height="1.35"/><rect x="539.3" y="134.0" width="1.35" height="1.35"/><rect x="533.3" y="137.2" width="1.35" height="1.35"/><rect x="535.8" y="140.5" width="1.35" height="1.35"/><rect x="538.4" y="143.8" width="1.35" height="1.35"/><rect x="532.4" y="147.1" width="1.35" height="1.35"/><rect x="534.0" y="150.4" width="1.35" height="1.35"/><rect x="538.3" y="153.7" width="1.35" height="1.35"/><rect x="540.4" y="155.3" width="1.35" height="1.35"/><rect x="540.9" y="156.9" width="1.35" height="1.35"/><rect x="533.2" y="158.6" width="1.35" height="1.35"/><rect x="536.8" y="160.2" width="1.35" height="1.35"/><rect x="539.0" y="161.8" width="1.35" height="1.35"/><rect x="536.7" y="163.5" width="1.35" height="1.35"/><rect x="538.4" y="165.1" width="1.35" height="1.35"/><rect x="533.9" y="166.8" width="1.35" height="1.35"/><rect x="532.8" y="168.4" width="1.35" height="1.35"/><rect x="553.0" y="197.3" width="1.35" height="1.35"/><rect x="557.1" y="181.1" width="1.35" height="1.35"/><rect x="554.0" y="180.5" width="1.35" height="1.35"/><rect x="554.5" y="194.5" width="1.35" height="1.35"/><rect x="561.2" y="170.6" width="1.35" height="1.35"/><rect x="553.5" y="167.4" width="1.35" height="1.35"/><rect x="560.9" y="199.0" width="1.35" height="1.35"/><rect x="559.3" y="184.4" width="1.35" height="1.35"/><rect x="556.7" y="189.3" width="1.35" height="1.35"/><rect x="556.4" y="182.4" width="1.35" height="1.35"/><rect x="552.8" y="179.3" width="1.35" height="1.35"/><rect x="560.0" y="175.6" width="1.35" height="1.35"/><rect x="556.6" y="194.6" width="1.35" height="1.35"/><rect x="556.2" y="174.2" width="1.35" height="1.35"/><rect x="554.1" y="194.1" width="1.35" height="1.35"/><rect x="552.8" y="182.5" width="1.35" height="1.35"/><rect x="559.6" y="168.6" width="1.35" height="1.35"/><rect x="560.1" y="175.5" width="1.35" height="1.35"/><rect x="556.2" y="178.3" width="1.35" height="1.35"/><rect x="557.0" y="179.3" width="1.35" height="1.35"/><rect x="559.6" y="165.4" width="1.35" height="1.35"/><rect x="560.5" y="191.8" width="1.35" height="1.35"/><rect x="559.4" y="174.1" width="1.35" height="1.35"/><rect x="556.2" y="171.5" width="1.35" height="1.35"/><rect x="560.3" y="168.5" width="1.35" height="1.35"/><rect x="559.3" y="175.9" width="1.35" height="1.35"/><rect x="556.2" y="173.3" width="1.35" height="1.35"/><rect x="553.3" y="174.9" width="1.35" height="1.35"/><rect x="556.7" y="188.7" width="1.35" height="1.35"/><rect x="555.8" y="200.8" width="1.35" height="1.35"/><rect x="558.1" y="177.9" width="1.35" height="1.35"/><rect x="560.8" y="192.7" width="1.35" height="1.35"/><rect x="555.6" y="176.9" width="1.35" height="1.35"/><rect x="557.6" y="177.1" width="1.35" height="1.35"/><rect x="556.1" y="181.8" width="1.35" height="1.35"/><rect x="558.2" y="164.7" width="1.35" height="1.35"/><rect x="559.3" y="175.6" width="1.35" height="1.35"/><rect x="552.9" y="165.5" width="1.35" height="1.35"/><rect x="559.1" y="178.8" width="1.35" height="1.35"/><rect x="556.2" y="191.8" width="1.35" height="1.35"/><rect x="554.4" y="199.4" width="1.35" height="1.35"/><rect x="553.5" y="187.5" width="1.35" height="1.35"/><rect x="560.5" y="192.1" width="1.35" height="1.35"/><rect x="557.1" y="181.1" width="1.35" height="1.35"/><rect x="557.6" y="165.9" width="1.35" height="1.35"/><rect x="558.2" y="164.9" width="1.35" height="1.35"/><rect x="553.4" y="171.7" width="1.35" height="1.35"/><rect x="559.2" y="179.4" width="1.35" height="1.35"/><rect x="560.7" y="199.6" width="1.35" height="1.35"/><rect x="556.8" y="195.4" width="1.35" height="1.35"/><rect x="557.0" y="195.0" width="1.35" height="1.35"/><rect x="553.2" y="178.9" width="1.35" height="1.35"/><rect x="556.3" y="166.7" width="1.35" height="1.35"/><rect x="557.8" y="182.0" width="1.35" height="1.35"/><rect x="555.2" y="187.9" width="1.35" height="1.35"/><rect x="557.5" y="177.3" width="1.35" height="1.35"/><rect x="558.9" y="190.9" width="1.35" height="1.35"/><rect x="552.8" y="190.4" width="1.35" height="1.35"/><rect x="553.1" y="192.3" width="1.35" height="1.35"/><rect x="559.2" y="195.5" width="1.35" height="1.35"/><rect x="560.4" y="187.0" width="1.35" height="1.35"/><rect x="553.1" y="173.9" width="1.35" height="1.35"/><rect x="560.8" y="165.1" width="1.35" height="1.35"/><rect x="560.5" y="198.5" width="1.35" height="1.35"/><rect x="556.4" y="96.2" width="1.35" height="1.35"/><rect x="556.8" y="129.0" width="1.35" height="1.35"/><rect x="561.3" y="130.7" width="1.35" height="1.35"/><rect x="554.7" y="135.6" width="1.35" height="1.35"/><rect x="557.2" y="145.4" width="1.35" height="1.35"/><rect x="560.9" y="148.7" width="1.35" height="1.35"/><rect x="559.0" y="150.4" width="1.35" height="1.35"/><rect x="556.7" y="152.0" width="1.35" height="1.35"/><rect x="561.3" y="153.7" width="1.35" height="1.35"/><rect x="559.9" y="155.3" width="1.35" height="1.35"/><rect x="557.9" y="156.9" width="1.35" height="1.35"/><rect x="553.5" y="158.6" width="1.35" height="1.35"/><rect x="558.1" y="160.2" width="1.35" height="1.35"/><rect x="556.6" y="161.8" width="1.35" height="1.35"/><rect x="554.3" y="163.5" width="1.35" height="1.35"/><rect x="607.0" y="199.6" width="1.35" height="1.35"/><rect x="606.3" y="197.4" width="1.35" height="1.35"/><rect x="606.4" y="180.9" width="1.35" height="1.35"/><rect x="607.5" y="193.2" width="1.35" height="1.35"/><rect x="609.2" y="188.5" width="1.35" height="1.35"/><rect x="611.1" y="185.1" width="1.35" height="1.35"/><rect x="608.8" y="172.3" width="1.35" height="1.35"/><rect x="603.5" y="194.0" width="1.35" height="1.35"/><rect x="609.2" y="174.1" width="1.35" height="1.35"/><rect x="605.6" y="182.2" width="1.35" height="1.35"/><rect x="608.4" y="193.0" width="1.35" height="1.35"/><rect x="607.6" y="184.0" width="1.35" height="1.35"/><rect x="609.0" y="182.0" width="1.35" height="1.35"/><rect x="604.6" y="195.4" width="1.35" height="1.35"/><rect x="610.4" y="171.4" width="1.35" height="1.35"/><rect x="602.8" y="174.5" width="1.35" height="1.35"/><rect x="604.8" y="199.4" width="1.35" height="1.35"/><rect x="607.9" y="188.3" width="1.35" height="1.35"/><rect x="607.2" y="198.1" width="1.35" height="1.35"/><rect x="603.2" y="199.0" width="1.35" height="1.35"/><rect x="607.2" y="180.7" width="1.35" height="1.35"/><rect x="605.7" y="182.0" width="1.35" height="1.35"/><rect x="604.3" y="186.7" width="1.35" height="1.35"/><rect x="608.9" y="190.8" width="1.35" height="1.35"/><rect x="603.1" y="175.7" width="1.35" height="1.35"/><rect x="609.5" y="197.6" width="1.35" height="1.35"/><rect x="609.1" y="182.3" width="1.35" height="1.35"/><rect x="606.1" y="194.7" width="1.35" height="1.35"/><rect x="609.5" y="193.4" width="1.35" height="1.35"/><rect x="608.1" y="190.0" width="1.35" height="1.35"/><rect x="605.3" y="171.2" width="1.35" height="1.35"/><rect x="608.9" y="184.5" width="1.35" height="1.35"/><rect x="606.2" y="173.2" width="1.35" height="1.35"/><rect x="603.3" y="190.0" width="1.35" height="1.35"/><rect x="603.2" y="174.6" width="1.35" height="1.35"/><rect x="607.4" y="198.7" width="1.35" height="1.35"/><rect x="608.4" y="186.5" width="1.35" height="1.35"/><rect x="609.2" y="192.1" width="1.35" height="1.35"/><rect x="604.3" y="198.9" width="1.35" height="1.35"/><rect x="603.2" y="181.1" width="1.35" height="1.35"/><rect x="608.7" y="192.0" width="1.35" height="1.35"/><rect x="604.9" y="180.1" width="1.35" height="1.35"/><rect x="605.6" y="196.9" width="1.35" height="1.35"/><rect x="605.7" y="179.2" width="1.35" height="1.35"/><rect x="608.6" y="197.6" width="1.35" height="1.35"/><rect x="610.4" y="183.9" width="1.35" height="1.35"/><rect x="610.4" y="172.7" width="1.35" height="1.35"/><rect x="609.4" y="187.9" width="1.35" height="1.35"/><rect x="605.2" y="191.9" width="1.35" height="1.35"/><rect x="610.5" y="189.1" width="1.35" height="1.35"/><rect x="604.6" y="174.0" width="1.35" height="1.35"/><rect x="605.6" y="190.2" width="1.35" height="1.35"/><rect x="605.9" y="190.2" width="1.35" height="1.35"/><rect x="604.2" y="189.4" width="1.35" height="1.35"/><rect x="609.4" y="184.1" width="1.35" height="1.35"/><rect x="609.7" y="184.8" width="1.35" height="1.35"/><rect x="604.0" y="184.1" width="1.35" height="1.35"/><rect x="610.1" y="178.1" width="1.35" height="1.35"/><rect x="602.7" y="192.7" width="1.35" height="1.35"/><rect x="607.2" y="185.5" width="1.35" height="1.35"/><rect x="610.8" y="184.0" width="1.35" height="1.35"/><rect x="609.4" y="181.4" width="1.35" height="1.35"/><rect x="607.2" y="199.3" width="1.35" height="1.35"/><rect x="603.2" y="177.3" width="1.35" height="1.35"/><rect x="603.0" y="117.6" width="1.35" height="1.35"/><rect x="608.9" y="130.7" width="1.35" height="1.35"/><rect x="610.4" y="143.8" width="1.35" height="1.35"/><rect x="603.1" y="147.1" width="1.35" height="1.35"/><rect x="608.0" y="148.7" width="1.35" height="1.35"/><rect x="603.6" y="152.0" width="1.35" height="1.35"/><rect x="609.0" y="153.7" width="1.35" height="1.35"/><rect x="608.1" y="156.9" width="1.35" height="1.35"/><rect x="604.5" y="158.6" width="1.35" height="1.35"/><rect x="604.3" y="160.2" width="1.35" height="1.35"/><rect x="609.2" y="161.8" width="1.35" height="1.35"/><rect x="607.0" y="163.5" width="1.35" height="1.35"/><rect x="609.2" y="165.1" width="1.35" height="1.35"/><rect x="605.8" y="166.8" width="1.35" height="1.35"/><rect x="605.3" y="168.4" width="1.35" height="1.35"/><rect x="611.0" y="170.0" width="1.35" height="1.35"/><rect x="627.0" y="173.1" width="1.35" height="1.35"/><rect x="629.0" y="178.7" width="1.35" height="1.35"/><rect x="630.7" y="171.6" width="1.35" height="1.35"/><rect x="629.9" y="184.0" width="1.35" height="1.35"/><rect x="630.1" y="173.3" width="1.35" height="1.35"/><rect x="630.0" y="167.5" width="1.35" height="1.35"/><rect x="631.0" y="164.0" width="1.35" height="1.35"/><rect x="627.3" y="174.4" width="1.35" height="1.35"/><rect x="629.7" y="171.5" width="1.35" height="1.35"/><rect x="626.4" y="183.6" width="1.35" height="1.35"/><rect x="629.2" y="195.1" width="1.35" height="1.35"/><rect x="626.0" y="159.8" width="1.35" height="1.35"/><rect x="624.6" y="194.2" width="1.35" height="1.35"/><rect x="625.3" y="183.4" width="1.35" height="1.35"/><rect x="623.3" y="160.6" width="1.35" height="1.35"/><rect x="623.8" y="188.3" width="1.35" height="1.35"/><rect x="629.5" y="174.1" width="1.35" height="1.35"/><rect x="623.3" y="193.7" width="1.35" height="1.35"/><rect x="627.8" y="182.0" width="1.35" height="1.35"/><rect x="623.1" y="163.2" width="1.35" height="1.35"/><rect x="624.4" y="196.7" width="1.35" height="1.35"/><rect x="624.8" y="192.1" width="1.35" height="1.35"/><rect x="627.9" y="171.2" width="1.35" height="1.35"/><rect x="624.4" y="191.8" width="1.35" height="1.35"/><rect x="624.3" y="189.5" width="1.35" height="1.35"/><rect x="625.5" y="169.5" width="1.35" height="1.35"/><rect x="629.8" y="178.3" width="1.35" height="1.35"/><rect x="625.0" y="181.2" width="1.35" height="1.35"/><rect x="630.7" y="164.1" width="1.35" height="1.35"/><rect x="627.5" y="186.9" width="1.35" height="1.35"/><rect x="627.0" y="161.2" width="1.35" height="1.35"/><rect x="623.2" y="192.0" width="1.35" height="1.35"/><rect x="629.7" y="161.6" width="1.35" height="1.35"/><rect x="627.3" y="185.1" width="1.35" height="1.35"/><rect x="625.2" y="179.6" width="1.35" height="1.35"/><rect x="628.5" y="159.8" width="1.35" height="1.35"/><rect x="622.9" y="191.3" width="1.35" height="1.35"/><rect x="626.0" y="181.4" width="1.35" height="1.35"/><rect x="628.9" y="167.9" width="1.35" height="1.35"/><rect x="624.2" y="175.9" width="1.35" height="1.35"/><rect x="625.6" y="194.6" width="1.35" height="1.35"/><rect x="630.3" y="190.4" width="1.35" height="1.35"/><rect x="628.3" y="179.6" width="1.35" height="1.35"/><rect x="625.1" y="159.7" width="1.35" height="1.35"/><rect x="624.1" y="178.8" width="1.35" height="1.35"/><rect x="622.8" y="169.0" width="1.35" height="1.35"/><rect x="630.1" y="166.9" width="1.35" height="1.35"/><rect x="623.5" y="166.8" width="1.35" height="1.35"/><rect x="629.0" y="189.9" width="1.35" height="1.35"/><rect x="626.9" y="197.1" width="1.35" height="1.35"/><rect x="631.0" y="181.6" width="1.35" height="1.35"/><rect x="630.2" y="176.7" width="1.35" height="1.35"/><rect x="629.6" y="188.5" width="1.35" height="1.35"/><rect x="630.7" y="183.8" width="1.35" height="1.35"/><rect x="629.9" y="197.4" width="1.35" height="1.35"/><rect x="627.5" y="192.5" width="1.35" height="1.35"/><rect x="624.2" y="179.2" width="1.35" height="1.35"/><rect x="625.5" y="166.4" width="1.35" height="1.35"/><rect x="623.5" y="188.2" width="1.35" height="1.35"/><rect x="626.8" y="188.4" width="1.35" height="1.35"/><rect x="625.9" y="171.3" width="1.35" height="1.35"/><rect x="623.7" y="172.5" width="1.35" height="1.35"/><rect x="626.8" y="184.7" width="1.35" height="1.35"/><rect x="629.9" y="160.8" width="1.35" height="1.35"/><rect x="628.5" y="45.4" width="1.35" height="1.35"/><rect x="622.7" y="53.6" width="1.35" height="1.35"/><rect x="626.0" y="102.8" width="1.35" height="1.35"/><rect x="629.0" y="112.6" width="1.35" height="1.35"/><rect x="624.7" y="120.8" width="1.35" height="1.35"/><rect x="627.7" y="127.4" width="1.35" height="1.35"/><rect x="626.7" y="134.0" width="1.35" height="1.35"/><rect x="622.7" y="137.2" width="1.35" height="1.35"/><rect x="631.5" y="142.2" width="1.35" height="1.35"/><rect x="629.8" y="145.4" width="1.35" height="1.35"/><rect x="624.5" y="148.7" width="1.35" height="1.35"/><rect x="628.1" y="150.4" width="1.35" height="1.35"/><rect x="625.2" y="152.0" width="1.35" height="1.35"/><rect x="626.0" y="153.7" width="1.35" height="1.35"/><rect x="627.5" y="155.3" width="1.35" height="1.35"/><rect x="625.3" y="156.9" width="1.35" height="1.35"/><rect x="625.6" y="158.6" width="1.35" height="1.35"/></g>
<line x1="467.75" y1="170.32" x2="467.75" y2="176.88" stroke="#222" stroke-width="0.8" />
<line x1="465.75" y1="170.32" x2="469.75" y2="170.32" stroke="#222" stroke-width="0.8" />
<line x1="487.55" y1="169.82" x2="487.55" y2="176.38" stroke="#222" stroke-width="0.8" />
<line x1="485.55" y1="169.82" x2="489.55" y2="169.82" stroke="#222" stroke-width="0.8" />
<line x1="537.35" y1="169.12" x2="537.35" y2="175.68" stroke="#222" stroke-width="0.8" />
<line x1="535.35" y1="169.12" x2="539.35" y2="169.12" stroke="#222" stroke-width="0.8" />
<line x1="557.65" y1="163.10" x2="557.65" y2="171.30" stroke="#222" stroke-width="0.8" />
<line x1="555.65" y1="163.10" x2="559.65" y2="163.10" stroke="#222" stroke-width="0.8" />
<line x1="607.45" y1="169.72" x2="607.45" y2="176.28" stroke="#222" stroke-width="0.8" />
<line x1="605.45" y1="169.72" x2="609.45" y2="169.72" stroke="#222" stroke-width="0.8" />
<line x1="627.75" y1="156.36" x2="627.75" y2="167.84" stroke="#222" stroke-width="0.8" />
<line x1="625.75" y1="156.36" x2="629.75" y2="156.36" stroke="#222" stroke-width="0.8" />
<path d="M545.30,73.40L550.70,73.40M546.65,71.06L549.35,75.74M549.35,71.06L546.65,75.74" stroke="#111" stroke-width="1.3" stroke-linecap="round"/>
<path d="M615.30,73.40L620.70,73.40M616.65,71.06L619.35,75.74M619.35,71.06L616.65,75.74" stroke="#111" stroke-width="1.3" stroke-linecap="round"/>
<text x="477.5" y="214.5" font-size="9.5" text-anchor="middle">Day 1</text>
<text x="548" y="214.5" font-size="9.5" text-anchor="middle">Day 2</text>
<text x="618" y="214.5" font-size="9.5" text-anchor="middle">Day 3</text>
<rect x="615.3" y="224.3" width="1.5" height="1.5" fill="#555"/>
<text x="620.8" y="227.6" font-size="7.3">individual cell data</text>
<rect x="46.30" y="281.10" width="14.35" height="14.30" fill="#000090" shape-rendering="crispEdges"/>
<rect x="60.15" y="281.10" width="14.35" height="14.30" fill="#00c4ff" shape-rendering="crispEdges"/>
<rect x="74.00" y="281.10" width="14.35" height="14.30" fill="#00ffa8" shape-rendering="crispEdges"/>
<rect x="87.85" y="281.10" width="14.35" height="14.30" fill="#00e4ff" shape-rendering="crispEdges"/>
<rect x="101.70" y="281.10" width="14.35" height="14.30" fill="#00ffa8" shape-rendering="crispEdges"/>
<rect x="115.55" y="281.10" width="14.35" height="14.30" fill="#ff4000" shape-rendering="crispEdges"/>
<rect x="129.40" y="281.10" width="14.35" height="14.30" fill="#00c4ff" shape-rendering="crispEdges"/>
<rect x="143.25" y="281.10" width="14.35" height="14.30" fill="#e0ff00" shape-rendering="crispEdges"/>
<rect x="157.10" y="281.10" width="14.35" height="14.30" fill="#c4ff08" shape-rendering="crispEdges"/>
<rect x="170.95" y="281.10" width="14.35" height="14.30" fill="#00ff90" shape-rendering="crispEdges"/>
<rect x="184.80" y="281.10" width="14.35" height="14.30" fill="#ffef00" shape-rendering="crispEdges"/>
<rect x="198.65" y="281.10" width="14.35" height="14.30" fill="#ffd000" shape-rendering="crispEdges"/>
<rect x="46.30" y="294.90" width="14.35" height="14.30" fill="#00c4ff" shape-rendering="crispEdges"/>
<rect x="60.15" y="294.90" width="14.35" height="14.30" fill="#000090" shape-rendering="crispEdges"/>
<rect x="74.00" y="294.90" width="14.35" height="14.30" fill="#0020ff" shape-rendering="crispEdges"/>
<rect x="87.85" y="294.90" width="14.35" height="14.30" fill="#0020ff" shape-rendering="crispEdges"/>
<rect x="101.70" y="294.90" width="14.35" height="14.30" fill="#00ffe8" shape-rendering="crispEdges"/>
<rect x="115.55" y="294.90" width="14.35" height="14.30" fill="#00ff80" shape-rendering="crispEdges"/>
<rect x="129.40" y="294.90" width="14.35" height="14.30" fill="#0000f0" shape-rendering="crispEdges"/>
<rect x="143.25" y="294.90" width="14.35" height="14.30" fill="#00d2ff" shape-rendering="crispEdges"/>
<rect x="157.10" y="294.90" width="14.35" height="14.30" fill="#0080ff" shape-rendering="crispEdges"/>
<rect x="170.95" y="294.90" width="14.35" height="14.30" fill="#0050ff" shape-rendering="crispEdges"/>
<rect x="184.80" y="294.90" width="14.35" height="14.30" fill="#0063ff" shape-rendering="crispEdges"/>
<rect x="198.65" y="294.90" width="14.35" height="14.30" fill="#00ffe8" shape-rendering="crispEdges"/>
<rect x="46.30" y="308.70" width="14.35" height="14.30" fill="#00ffa8" shape-rendering="crispEdges"/>
<rect x="60.15" y="308.70" width="14.35" height="14.30" fill="#0020ff" shape-rendering="crispEdges"/>
<rect x="74.00" y="308.70" width="14.35" height="14.30" fill="#000090" shape-rendering="crispEdges"/>
<rect x="87.85" y="308.70" width="14.35" height="14.30" fill="#0030ff" shape-rendering="crispEdges"/>
<rect x="101.70" y="308.70" width="14.35" height="14.30" fill="#00ffd4" shape-rendering="crispEdges"/>
<rect x="115.55" y="308.70" width="14.35" height="14.30" fill="#00f6ff" shape-rendering="crispEdges"/>
<rect x="129.40" y="308.70" width="14.35" height="14.30" fill="#00b1ff" shape-rendering="crispEdges"/>
<rect x="143.25" y="308.70" width="14.35" height="14.30" fill="#00ffff" shape-rendering="crispEdges"/>
<rect x="157.10" y="308.70" width="14.35" height="14.30" fill="#00d2ff" shape-rendering="crispEdges"/>
<rect x="170.95" y="308.70" width="14.35" height="14.30" fill="#00ffd4" shape-rendering="crispEdges"/>
<rect x="184.80" y="308.70" width="14.35" height="14.30" fill="#00ffee" shape-rendering="crispEdges"/>
<rect x="198.65" y="308.70" width="14.35" height="14.30" fill="#00ffff" shape-rendering="crispEdges"/>
<rect x="46.30" y="322.50" width="14.35" height="14.30" fill="#00e4ff" shape-rendering="crispEdges"/>
<rect x="60.15" y="322.50" width="14.35" height="14.30" fill="#0020ff" shape-rendering="crispEdges"/>
<rect x="74.00" y="322.50" width="14.35" height="14.30" fill="#0030ff" shape-rendering="crispEdges"/>
<rect x="87.85" y="322.50" width="14.35" height="14.30" fill="#000090" shape-rendering="crispEdges"/>
<rect x="101.70" y="322.50" width="14.35" height="14.30" fill="#008eff" shape-rendering="crispEdges"/>
<rect x="115.55" y="322.50" width="14.35" height="14.30" fill="#008eff" shape-rendering="crispEdges"/>
<rect x="129.40" y="322.50" width="14.35" height="14.30" fill="#00a0ff" shape-rendering="crispEdges"/>
<rect x="143.25" y="322.50" width="14.35" height="14.30" fill="#00ffff" shape-rendering="crispEdges"/>
<rect x="157.10" y="322.50" width="14.35" height="14.30" fill="#00b1ff" shape-rendering="crispEdges"/>
<rect x="170.95" y="322.50" width="14.35" height="14.30" fill="#0063ff" shape-rendering="crispEdges"/>
<rect x="184.80" y="322.50" width="14.35" height="14.30" fill="#00a0ff" shape-rendering="crispEdges"/>
<rect x="198.65" y="322.50" width="14.35" height="14.30" fill="#00ffe8" shape-rendering="crispEdges"/>
<rect x="46.30" y="336.30" width="14.35" height="14.30" fill="#00ffa8" shape-rendering="crispEdges"/>
<rect x="60.15" y="336.30" width="14.35" height="14.30" fill="#00ffe8" shape-rendering="crispEdges"/>
<rect x="74.00" y="336.30" width="14.35" height="14.30" fill="#00ffd4" shape-rendering="crispEdges"/>
<rect x="87.85" y="336.30" width="14.35" height="14.30" fill="#008eff" shape-rendering="crispEdges"/>
<rect x="101.70" y="336.30" width="14.35" height="14.30" fill="#000090" shape-rendering="crispEdges"/>
<rect x="115.55" y="336.30" width="14.35" height="14.30" fill="#00c4ff" shape-rendering="crispEdges"/>
<rect x="129.40" y="336.30" width="14.35" height="14.30" fill="#00d2ff" shape-rendering="crispEdges"/>
<rect x="143.25" y="336.30" width="14.35" height="14.30" fill="#00ffc4" shape-rendering="crispEdges"/>
<rect x="157.10" y="336.30" width="14.35" height="14.30" fill="#78ff40" shape-rendering="crispEdges"/>
<rect x="170.95" y="336.30" width="14.35" height="14.30" fill="#00ff90" shape-rendering="crispEdges"/>
<rect x="184.80" y="336.30" width="14.35" height="14.30" fill="#00ffc4" shape-rendering="crispEdges"/>
<rect x="198.65" y="336.30" width="14.35" height="14.30" fill="#00ff98" shape-rendering="crispEdges"/>
<rect x="46.30" y="350.10" width="14.35" height="14.30" fill="#ff4000" shape-rendering="crispEdges"/>
<rect x="60.15" y="350.10" width="14.35" height="14.30" fill="#00ff80" shape-rendering="crispEdges"/>
<rect x="74.00" y="350.10" width="14.35" height="14.30" fill="#00f6ff" shape-rendering="crispEdges"/>
<rect x="87.85" y="350.10" width="14.35" height="14.30" fill="#008eff" shape-rendering="crispEdges"/>
<rect x="101.70" y="350.10" width="14.35" height="14.30" fill="#00c4ff" shape-rendering="crispEdges"/>
<rect x="115.55" y="350.10" width="14.35" height="14.30" fill="#000090" shape-rendering="crispEdges"/>
<rect x="129.40" y="350.10" width="14.35" height="14.30" fill="#78ff40" shape-rendering="crispEdges"/>
<rect x="143.25" y="350.10" width="14.35" height="14.30" fill="#00ffff" shape-rendering="crispEdges"/>
<rect x="157.10" y="350.10" width="14.35" height="14.30" fill="#00ffee" shape-rendering="crispEdges"/>
<rect x="170.95" y="350.10" width="14.35" height="14.30" fill="#00c4ff" shape-rendering="crispEdges"/>
<rect x="184.80" y="350.10" width="14.35" height="14.30" fill="#0063ff" shape-rendering="crispEdges"/>
<rect x="198.65" y="350.10" width="14.35" height="14.30" fill="#00ffff" shape-rendering="crispEdges"/>
<rect x="46.30" y="363.90" width="14.35" height="14.30" fill="#00c4ff" shape-rendering="crispEdges"/>
<rect x="60.15" y="363.90" width="14.35" height="14.30" fill="#0000f0" shape-rendering="crispEdges"/>
<rect x="74.00" y="363.90" width="14.35" height="14.30" fill="#00b1ff" shape-rendering="crispEdges"/>
<rect x="87.85" y="363.90" width="14.35" height="14.30" fill="#00a0ff" shape-rendering="crispEdges"/>
<rect x="101.70" y="363.90" width="14.35" height="14.30" fill="#00d2ff" shape-rendering="crispEdges"/>
<rect x="115.55" y="363.90" width="14.35" height="14.30" fill="#78ff40" shape-rendering="crispEdges"/>
<rect x="129.40" y="363.90" width="14.35" height="14.30" fill="#000090" shape-rendering="crispEdges"/>
<rect x="143.25" y="363.90" width="14.35" height="14.30" fill="#00d2ff" shape-rendering="crispEdges"/>
<rect x="157.10" y="363.90" width="14.35" height="14.30" fill="#00c4ff" shape-rendering="crispEdges"/>
<rect x="170.95" y="363.90" width="14.35" height="14.30" fill="#00ffa8" shape-rendering="crispEdges"/>
<rect x="184.80" y="363.90" width="14.35" height="14.30" fill="#18ff64" shape-rendering="crispEdges"/>
<rect x="198.65" y="363.90" width="14.35" height="14.30" fill="#ffca00" shape-rendering="crispEdges"/>
<rect x="46.30" y="377.70" width="14.35" height="14.30" fill="#e0ff00" shape-rendering="crispEdges"/>
<rect x="60.15" y="377.70" width="14.35" height="14.30" fill="#00d2ff" shape-rendering="crispEdges"/>
<rect x="74.00" y="377.70" width="14.35" height="14.30" fill="#00ffff" shape-rendering="crispEdges"/>
<rect x="87.85" y="377.70" width="14.35" height="14.30" fill="#00ffff" shape-rendering="crispEdges"/>
<rect x="101.70" y="377.70" width="14.35" height="14.30" fill="#00ffc4" shape-rendering="crispEdges"/>
<rect x="115.55" y="377.70" width="14.35" height="14.30" fill="#00ffff" shape-rendering="crispEdges"/>
<rect x="129.40" y="377.70" width="14.35" height="14.30" fill="#00d2ff" shape-rendering="crispEdges"/>
<rect x="143.25" y="377.70" width="14.35" height="14.30" fill="#000090" shape-rendering="crispEdges"/>
<rect x="157.10" y="377.70" width="14.35" height="14.30" fill="#000090" shape-rendering="crispEdges"/>
<rect x="170.95" y="377.70" width="14.35" height="14.30" fill="#00ffd4" shape-rendering="crispEdges"/>
<rect x="184.80" y="377.70" width="14.35" height="14.30" fill="#00c4ff" shape-rendering="crispEdges"/>
<rect x="198.65" y="377.70" width="14.35" height="14.30" fill="#00e4ff" shape-rendering="crispEdges"/>
<rect x="46.30" y="391.50" width="14.35" height="14.30" fill="#c4ff08" shape-rendering="crispEdges"/>
<rect x="60.15" y="391.50" width="14.35" height="14.30" fill="#0080ff" shape-rendering="crispEdges"/>
<rect x="74.00" y="391.50" width="14.35" height="14.30" fill="#00d2ff" shape-rendering="crispEdges"/>
<rect x="87.85" y="391.50" width="14.35" height="14.30" fill="#00b1ff" shape-rendering="crispEdges"/>
<rect x="101.70" y="391.50" width="14.35" height="14.30" fill="#78ff40" shape-rendering="crispEdges"/>
<rect x="115.55" y="391.50" width="14.35" height="14.30" fill="#00ffee" shape-rendering="crispEdges"/>
<rect x="129.40" y="391.50" width="14.35" height="14.30" fill="#00c4ff" shape-rendering="crispEdges"/>
<rect x="143.25" y="391.50" width="14.35" height="14.30" fill="#000090" shape-rendering="crispEdges"/>
<rect x="157.10" y="391.50" width="14.35" height="14.30" fill="#000090" shape-rendering="crispEdges"/>
<rect x="170.95" y="391.50" width="14.35" height="14.30" fill="#00a4ff" shape-rendering="crispEdges"/>
<rect x="184.80" y="391.50" width="14.35" height="14.30" fill="#00d2ff" shape-rendering="crispEdges"/>
<rect x="198.65" y="391.50" width="14.35" height="14.30" fill="#00ffa8" shape-rendering="crispEdges"/>
<rect x="46.30" y="405.30" width="14.35" height="14.30" fill="#00ff90" shape-rendering="crispEdges"/>
<rect x="60.15" y="405.30" width="14.35" height="14.30" fill="#0050ff" shape-rendering="crispEdges"/>
<rect x="74.00" y="405.30" width="14.35" height="14.30" fill="#00ffd4" shape-rendering="crispEdges"/>
<rect x="87.85" y="405.30" width="14.35" height="14.30" fill="#0063ff" shape-rendering="crispEdges"/>
<rect x="101.70" y="405.30" width="14.35" height="14.30" fill="#00ff90" shape-rendering="crispEdges"/>
<rect x="115.55" y="405.30" width="14.35" height="14.30" fill="#00c4ff" shape-rendering="crispEdges"/>
<rect x="129.40" y="405.30" width="14.35" height="14.30" fill="#00ffa8" shape-rendering="crispEdges"/>
<rect x="143.25" y="405.30" width="14.35" height="14.30" fill="#00ffd4" shape-rendering="crispEdges"/>
<rect x="157.10" y="405.30" width="14.35" height="14.30" fill="#00a4ff" shape-rendering="crispEdges"/>
<rect x="170.95" y="405.30" width="14.35" height="14.30" fill="#000090" shape-rendering="crispEdges"/>
<rect x="184.80" y="405.30" width="14.35" height="14.30" fill="#0080ff" shape-rendering="crispEdges"/>
<rect x="198.65" y="405.30" width="14.35" height="14.30" fill="#00c4ff" shape-rendering="crispEdges"/>
<rect x="46.30" y="419.10" width="14.35" height="14.30" fill="#ffef00" shape-rendering="crispEdges"/>
<rect x="60.15" y="419.10" width="14.35" height="14.30" fill="#0063ff" shape-rendering="crispEdges"/>
<rect x="74.00" y="419.10" width="14.35" height="14.30" fill="#00ffee" shape-rendering="crispEdges"/>
<rect x="87.85" y="419.10" width="14.35" height="14.30" fill="#00a0ff" shape-rendering="crispEdges"/>
<rect x="101.70" y="419.10" width="14.35" height="14.30" fill="#00ffc4" shape-rendering="crispEdges"/>
<rect x="115.55" y="419.10" width="14.35" height="14.30" fill="#0063ff" shape-rendering="crispEdges"/>
<rect x="129.40" y="419.10" width="14.35" height="14.30" fill="#18ff64" shape-rendering="crispEdges"/>
<rect x="143.25" y="419.10" width="14.35" height="14.30" fill="#00c4ff" shape-rendering="crispEdges"/>
<rect x="157.10" y="419.10" width="14.35" height="14.30" fill="#00d2ff" shape-rendering="crispEdges"/>
<rect x="170.95" y="419.10" width="14.35" height="14.30" fill="#0080ff" shape-rendering="crispEdges"/>
<rect x="184.80" y="419.10" width="14.35" height="14.30" fill="#000090" shape-rendering="crispEdges"/>
<rect x="198.65" y="419.10" width="14.35" height="14.30" fill="#00dbff" shape-rendering="crispEdges"/>
<rect x="46.30" y="432.90" width="14.35" height="14.30" fill="#ffd000" shape-rendering="crispEdges"/>
<rect x="60.15" y="432.90" width="14.35" height="14.30" fill="#00ffe8" shape-rendering="crispEdges"/>
<rect x="74.00" y="432.90" width="14.35" height="14.30" fill="#00ffff" shape-rendering="crispEdges"/>
<rect x="87.85" y="432.90" width="14.35" height="14.30" fill="#00ffe8" shape-rendering="crispEdges"/>
<rect x="101.70" y="432.90" width="14.35" height="14.30" fill="#00ff98" shape-rendering="crispEdges"/>
<rect x="115.55" y="432.90" width="14.35" height="14.30" fill="#00ffff" shape-rendering="crispEdges"/>
<rect x="129.40" y="432.90" width="14.35" height="14.30" fill="#ffca00" shape-rendering="crispEdges"/>
<rect x="143.25" y="432.90" width="14.35" height="14.30" fill="#00e4ff" shape-rendering="crispEdges"/>
<rect x="157.10" y="432.90" width="14.35" height="14.30" fill="#00ffa8" shape-rendering="crispEdges"/>
<rect x="170.95" y="432.90" width="14.35" height="14.30" fill="#00c4ff" shape-rendering="crispEdges"/>
<rect x="184.80" y="432.90" width="14.35" height="14.30" fill="#00dbff" shape-rendering="crispEdges"/>
<rect x="198.65" y="432.90" width="14.35" height="14.30" fill="#000090" shape-rendering="crispEdges"/>
<rect x="46.30" y="281.10" width="166.20" height="165.60" fill="none" stroke="#555" stroke-width="0.8"/>
<path d="M53.2,446.7v-1.5M53.2,281.1v1.5M46.3,288.0h1.5M212.5,288.0h-1.5M67.1,446.7v-1.5M67.1,281.1v1.5M46.3,301.8h1.5M212.5,301.8h-1.5M80.9,446.7v-1.5M80.9,281.1v1.5M46.3,315.6h1.5M212.5,315.6h-1.5M94.8,446.7v-1.5M94.8,281.1v1.5M46.3,329.4h1.5M212.5,329.4h-1.5M108.6,446.7v-1.5M108.6,281.1v1.5M46.3,343.2h1.5M212.5,343.2h-1.5M122.5,446.7v-1.5M122.5,281.1v1.5M46.3,357.0h1.5M212.5,357.0h-1.5M136.3,446.7v-1.5M136.3,281.1v1.5M46.3,370.8h1.5M212.5,370.8h-1.5M150.2,446.7v-1.5M150.2,281.1v1.5M46.3,384.6h1.5M212.5,384.6h-1.5M164.0,446.7v-1.5M164.0,281.1v1.5M46.3,398.4h1.5M212.5,398.4h-1.5M177.9,446.7v-1.5M177.9,281.1v1.5M46.3,412.2h1.5M212.5,412.2h-1.5M191.7,446.7v-1.5M191.7,281.1v1.5M46.3,426.0h1.5M212.5,426.0h-1.5M205.6,446.7v-1.5M205.6,281.1v1.5M46.3,439.8h1.5M212.5,439.8h-1.5" stroke="#444" stroke-width="0.6" fill="none"/>
<rect x="46.30" y="281.10" width="83.10" height="82.80" fill="none" stroke="#000" stroke-width="3"/>
<rect x="129.40" y="363.90" width="83.10" height="82.80" fill="none" stroke="#000" stroke-width="3"/>
<text x="129.39999999999998" y="261.5" font-size="9.6" text-anchor="middle">Day 1</text>
<text x="39.099999999999994" y="322.5" font-size="10" text-anchor="middle" transform="rotate(-90 39.099999999999994 322.5)">Context A</text>
<text x="39.099999999999994" y="405.3" font-size="10" text-anchor="middle" transform="rotate(-90 39.099999999999994 405.3)">Context B</text>
<text x="87.85" y="462" font-size="10" text-anchor="middle">Context A</text>
<text x="170.95" y="462" font-size="10" text-anchor="middle">Context B</text>
<rect x="243.00" y="281.10" width="14.35" height="14.30" fill="#000090" shape-rendering="crispEdges"/>
<rect x="256.85" y="281.10" width="14.35" height="14.30" fill="#ffd000" shape-rendering="crispEdges"/>
<rect x="270.70" y="281.10" width="14.35" height="14.30" fill="#00ffa8" shape-rendering="crispEdges"/>
<rect x="284.55" y="281.10" width="14.35" height="14.30" fill="#a0ff20" shape-rendering="crispEdges"/>
<rect x="298.40" y="281.10" width="14.35" height="14.30" fill="#ff5000" shape-rendering="crispEdges"/>
<rect x="312.25" y="281.10" width="14.35" height="14.30" fill="#ff1700" shape-rendering="crispEdges"/>
<rect x="326.10" y="281.10" width="14.35" height="14.30" fill="#90ff28" shape-rendering="crispEdges"/>
<rect x="339.95" y="281.10" width="14.35" height="14.30" fill="#90ff28" shape-rendering="crispEdges"/>
<rect x="353.80" y="281.10" width="14.35" height="14.30" fill="#00ffff" shape-rendering="crispEdges"/>
<rect x="367.65" y="281.10" width="14.35" height="14.30" fill="#ff4000" shape-rendering="crispEdges"/>
<rect x="381.50" y="281.10" width="14.35" height="14.30" fill="#cfff05" shape-rendering="crispEdges"/>
<rect x="395.35" y="281.10" width="14.35" height="14.30" fill="#ff5000" shape-rendering="crispEdges"/>
<rect x="243.00" y="294.90" width="14.35" height="14.30" fill="#ffd000" shape-rendering="crispEdges"/>
<rect x="256.85" y="294.90" width="14.35" height="14.30" fill="#000090" shape-rendering="crispEdges"/>
<rect x="270.70" y="294.90" width="14.35" height="14.30" fill="#00ffa8" shape-rendering="crispEdges"/>
<rect x="284.55" y="294.90" width="14.35" height="14.30" fill="#00ffa8" shape-rendering="crispEdges"/>
<rect x="298.40" y="294.90" width="14.35" height="14.30" fill="#60ff48" shape-rendering="crispEdges"/>
<rect x="312.25" y="294.90" width="14.35" height="14.30" fill="#e0ff00" shape-rendering="crispEdges"/>
<rect x="326.10" y="294.90" width="14.35" height="14.30" fill="#00d6ff" shape-rendering="crispEdges"/>
<rect x="339.95" y="294.90" width="14.35" height="14.30" fill="#ff8000" shape-rendering="crispEdges"/>
<rect x="353.80" y="294.90" width="14.35" height="14.30" fill="#ffa000" shape-rendering="crispEdges"/>
<rect x="367.65" y="294.90" width="14.35" height="14.30" fill="#ff0c00" shape-rendering="crispEdges"/>
<rect x="381.50" y="294.90" width="14.35" height="14.30" fill="#ffa000" shape-rendering="crispEdges"/>
<rect x="395.35" y="294.90" width="14.35" height="14.30" fill="#ff5000" shape-rendering="crispEdges"/>
<rect x="243.00" y="308.70" width="14.35" height="14.30" fill="#00ffa8" shape-rendering="crispEdges"/>
<rect x="256.85" y="308.70" width="14.35" height="14.30" fill="#00ffa8" shape-rendering="crispEdges"/>
<rect x="270.70" y="308.70" width="14.35" height="14.30" fill="#000090" shape-rendering="crispEdges"/>
<rect x="284.55" y="308.70" width="14.35" height="14.30" fill="#08ff77" shape-rendering="crispEdges"/>
<rect x="298.40" y="308.70" width="14.35" height="14.30" fill="#08ff77" shape-rendering="crispEdges"/>
<rect x="312.25" y="308.70" width="14.35" height="14.30" fill="#008eff" shape-rendering="crispEdges"/>
<rect x="326.10" y="308.70" width="14.35" height="14.30" fill="#00ffff" shape-rendering="crispEdges"/>
<rect x="339.95" y="308.70" width="14.35" height="14.30" fill="#00ffc4" shape-rendering="crispEdges"/>
<rect x="353.80" y="308.70" width="14.35" height="14.30" fill="#60ff48" shape-rendering="crispEdges"/>
<rect x="367.65" y="308.70" width="14.35" height="14.30" fill="#ff1c00" shape-rendering="crispEdges"/>
<rect x="381.50" y="308.70" width="14.35" height="14.30" fill="#00ff80" shape-rendering="crispEdges"/>
<rect x="395.35" y="308.70" width="14.35" height="14.30" fill="#60ff48" shape-rendering="crispEdges"/>
<rect x="243.00" y="322.50" width="14.35" height="14.30" fill="#a0ff20" shape-rendering="crispEdges"/>
<rect x="256.85" y="322.50" width="14.35" height="14.30" fill="#00ffa8" shape-rendering="crispEdges"/>
<rect x="270.70" y="322.50" width="14.35" height="14.30" fill="#08ff77" shape-rendering="crispEdges"/>
<rect x="284.55" y="322.50" width="14.35" height="14.30" fill="#000090" shape-rendering="crispEdges"/>
<rect x="298.40" y="322.50" width="14.35" height="14.30" fill="#0020ff" shape-rendering="crispEdges"/>
<rect x="312.25" y="322.50" width="14.35" height="14.30" fill="#90ff28" shape-rendering="crispEdges"/>
<rect x="326.10" y="322.50" width="14.35" height="14.30" fill="#00ffa8" shape-rendering="crispEdges"/>
<rect x="339.95" y="322.50" width="14.35" height="14.30" fill="#ff4000" shape-rendering="crispEdges"/>
<rect x="353.80" y="322.50" width="14.35" height="14.30" fill="#ffef00" shape-rendering="crispEdges"/>
<rect x="367.65" y="322.50" width="14.35" height="14.30" fill="#ecfb00" shape-rendering="crispEdges"/>
<rect x="381.50" y="322.50" width="14.35" height="14.30" fill="#78ff40" shape-rendering="crispEdges"/>
<rect x="395.35" y="322.50" width="14.35" height="14.30" fill="#ffa000" shape-rendering="crispEdges"/>
<rect x="243.00" y="336.30" width="14.35" height="14.30" fill="#ff5000" shape-rendering="crispEdges"/>
<rect x="256.85" y="336.30" width="14.35" height="14.30" fill="#60ff48" shape-rendering="crispEdges"/>
<rect x="270.70" y="336.30" width="14.35" height="14.30" fill="#08ff77" shape-rendering="crispEdges"/>
<rect x="284.55" y="336.30" width="14.35" height="14.30" fill="#0020ff" shape-rendering="crispEdges"/>
<rect x="298.40" y="336.30" width="14.35" height="14.30" fill="#000090" shape-rendering="crispEdges"/>
<rect x="312.25" y="336.30" width="14.35" height="14.30" fill="#90ff28" shape-rendering="crispEdges"/>
<rect x="326.10" y="336.30" width="14.35" height="14.30" fill="#18ff64" shape-rendering="crispEdges"/>
<rect x="339.95" y="336.30" width="14.35" height="14.30" fill="#ff0800" shape-rendering="crispEdges"/>
<rect x="353.80" y="336.30" width="14.35" height="14.30" fill="#ffb000" shape-rendering="crispEdges"/>
<rect x="367.65" y="336.30" width="14.35" height="14.30" fill="#ffb000" shape-rendering="crispEdges"/>
<rect x="381.50" y="336.30" width="14.35" height="14.30" fill="#c4ff08" shape-rendering="crispEdges"/>
<rect x="395.35" y="336.30" width="14.35" height="14.30" fill="#c4ff08" shape-rendering="crispEdges"/>
<rect x="243.00" y="350.10" width="14.35" height="14.30" fill="#ff1700" shape-rendering="crispEdges"/>
<rect x="256.85" y="350.10" width="14.35" height="14.30" fill="#e0ff00" shape-rendering="crispEdges"/>
<rect x="270.70" y="350.10" width="14.35" height="14.30" fill="#008eff" shape-rendering="crispEdges"/>
<rect x="284.55" y="350.10" width="14.35" height="14.30" fill="#90ff28" shape-rendering="crispEdges"/>
<rect x="298.40" y="350.10" width="14.35" height="14.30" fill="#90ff28" shape-rendering="crispEdges"/>
<rect x="312.25" y="350.10" width="14.35" height="14.30" fill="#000090" shape-rendering="crispEdges"/>
<rect x="326.10" y="350.10" width="14.35" height="14.30" fill="#90ff28" shape-rendering="crispEdges"/>
<rect x="339.95" y="350.10" width="14.35" height="14.30" fill="#c4ff08" shape-rendering="crispEdges"/>
<rect x="353.80" y="350.10" width="14.35" height="14.30" fill="#ffa000" shape-rendering="crispEdges"/>
<rect x="367.65" y="350.10" width="14.35" height="14.30" fill="#ff0000" shape-rendering="crispEdges"/>
<rect x="381.50" y="350.10" width="14.35" height="14.30" fill="#78ff40" shape-rendering="crispEdges"/>
<rect x="395.35" y="350.10" width="14.35" height="14.30" fill="#c4ff08" shape-rendering="crispEdges"/>
<rect x="243.00" y="363.90" width="14.35" height="14.30" fill="#90ff28" shape-rendering="crispEdges"/>
<rect x="256.85" y="363.90" width="14.35" height="14.30" fill="#00d6ff" shape-rendering="crispEdges"/>
<rect x="270.70" y="363.90" width="14.35" height="14.30" fill="#00ffff" shape-rendering="crispEdges"/>
<rect x="284.55" y="363.90" width="14.35" height="14.30" fill="#00ffa8" shape-rendering="crispEdges"/>
<rect x="298.40" y="363.90" width="14.35" height="14.30" fill="#18ff64" shape-rendering="crispEdges"/>
<rect x="312.25" y="363.90" width="14.35" height="14.30" fill="#90ff28" shape-rendering="crispEdges"/>
<rect x="326.10" y="363.90" width="14.35" height="14.30" fill="#000090" shape-rendering="crispEdges"/>
<rect x="339.95" y="363.90" width="14.35" height="14.30" fill="#0097ff" shape-rendering="crispEdges"/>
<rect x="353.80" y="363.90" width="14.35" height="14.30" fill="#00f6ff" shape-rendering="crispEdges"/>
<rect x="367.65" y="363.90" width="14.35" height="14.30" fill="#90ff28" shape-rendering="crispEdges"/>
<rect x="381.50" y="363.90" width="14.35" height="14.30" fill="#00a4ff" shape-rendering="crispEdges"/>
<rect x="395.35" y="363.90" width="14.35" height="14.30" fill="#00ffd4" shape-rendering="crispEdges"/>
<rect x="243.00" y="377.70" width="14.35" height="14.30" fill="#90ff28" shape-rendering="crispEdges"/>
<rect x="256.85" y="377.70" width="14.35" height="14.30" fill="#ff8000" shape-rendering="crispEdges"/>
<rect x="270.70" y="377.70" width="14.35" height="14.30" fill="#00ffc4" shape-rendering="crispEdges"/>
<rect x="284.55" y="377.70" width="14.35" height="14.30" fill="#ff4000" shape-rendering="crispEdges"/>
<rect x="298.40" y="377.70" width="14.35" height="14.30" fill="#ff0800" shape-rendering="crispEdges"/>
<rect x="312.25" y="377.70" width="14.35" height="14.30" fill="#c4ff08" shape-rendering="crispEdges"/>
<rect x="326.10" y="377.70" width="14.35" height="14.30" fill="#0097ff" shape-rendering="crispEdges"/>
<rect x="339.95" y="377.70" width="14.35" height="14.30" fill="#000090" shape-rendering="crispEdges"/>
<rect x="353.80" y="377.70" width="14.35" height="14.30" fill="#0097ff" shape-rendering="crispEdges"/>
<rect x="367.65" y="377.70" width="14.35" height="14.30" fill="#ffd500" shape-rendering="crispEdges"/>
<rect x="381.50" y="377.70" width="14.35" height="14.30" fill="#00e8ff" shape-rendering="crispEdges"/>
<rect x="395.35" y="377.70" width="14.35" height="14.30" fill="#00ffff" shape-rendering="crispEdges"/>
<rect x="243.00" y="391.50" width="14.35" height="14.30" fill="#00ffff" shape-rendering="crispEdges"/>
<rect x="256.85" y="391.50" width="14.35" height="14.30" fill="#ffa000" shape-rendering="crispEdges"/>
<rect x="270.70" y="391.50" width="14.35" height="14.30" fill="#60ff48" shape-rendering="crispEdges"/>
<rect x="284.55" y="391.50" width="14.35" height="14.30" fill="#ffef00" shape-rendering="crispEdges"/>
<rect x="298.40" y="391.50" width="14.35" height="14.30" fill="#ffb000" shape-rendering="crispEdges"/>
<rect x="312.25" y="391.50" width="14.35" height="14.30" fill="#ffa000" shape-rendering="crispEdges"/>
<rect x="326.10" y="391.50" width="14.35" height="14.30" fill="#00f6ff" shape-rendering="crispEdges"/>
<rect x="339.95" y="391.50" width="14.35" height="14.30" fill="#0097ff" shape-rendering="crispEdges"/>
<rect x="353.80" y="391.50" width="14.35" height="14.30" fill="#000090" shape-rendering="crispEdges"/>
<rect x="367.65" y="391.50" width="14.35" height="14.30" fill="#00ff88" shape-rendering="crispEdges"/>
<rect x="381.50" y="391.50" width="14.35" height="14.30" fill="#00c4ff" shape-rendering="crispEdges"/>
<rect x="395.35" y="391.50" width="14.35" height="14.30" fill="#00ffd4" shape-rendering="crispEdges"/>
<rect x="243.00" y="405.30" width="14.35" height="14.30" fill="#ff4000" shape-rendering="crispEdges"/>
<rect x="256.85" y="405.30" width="14.35" height="14.30" fill="#ff0c00" shape-rendering="crispEdges"/>
<rect x="270.70" y="405.30" width="14.35" height="14.30" fill="#ff1c00" shape-rendering="crispEdges"/>
<rect x="284.55" y="405.30" width="14.35" height="14.30" fill="#ecfb00" shape-rendering="crispEdges"/>
<rect x="298.40" y="405.30" width="14.35" height="14.30" fill="#ffb000" shape-rendering="crispEdges"/>
<rect x="312.25" y="405.30" width="14.35" height="14.30" fill="#ff0000" shape-rendering="crispEdges"/>
<rect x="326.10" y="405.30" width="14.35" height="14.30" fill="#90ff28" shape-rendering="crispEdges"/>
<rect x="339.95" y="405.30" width="14.35" height="14.30" fill="#ffd500" shape-rendering="crispEdges"/>
<rect x="353.80" y="405.30" width="14.35" height="14.30" fill="#00ff88" shape-rendering="crispEdges"/>
<rect x="367.65" y="405.30" width="14.35" height="14.30" fill="#000090" shape-rendering="crispEdges"/>
<rect x="381.50" y="405.30" width="14.35" height="14.30" fill="#60ff48" shape-rendering="crispEdges"/>
<rect x="395.35" y="405.30" width="14.35" height="14.30" fill="#ecfb00" shape-rendering="crispEdges"/>
<rect x="243.00" y="419.10" width="14.35" height="14.30" fill="#cfff05" shape-rendering="crispEdges"/>
<rect x="256.85" y="419.10" width="14.35" height="14.30" fill="#ffa000" shape-rendering="crispEdges"/>
<rect x="270.70" y="419.10" width="14.35" height="14.30" fill="#00ff80" shape-rendering="crispEdges"/>
<rect x="284.55" y="419.10" width="14.35" height="14.30" fill="#78ff40" shape-rendering="crispEdges"/>
<rect x="298.40" y="419.10" width="14.35" height="14.30" fill="#c4ff08" shape-rendering="crispEdges"/>
<rect x="312.25" y="419.10" width="14.35" height="14.30" fill="#78ff40" shape-rendering="crispEdges"/>
<rect x="326.10" y="419.10" width="14.35" height="14.30" fill="#00a4ff" shape-rendering="crispEdges"/>
<rect x="339.95" y="419.10" width="14.35" height="14.30" fill="#00e8ff" shape-rendering="crispEdges"/>
<rect x="353.80" y="419.10" width="14.35" height="14.30" fill="#00c4ff" shape-rendering="crispEdges"/>
<rect x="367.65" y="419.10" width="14.35" height="14.30" fill="#60ff48" shape-rendering="crispEdges"/>
<rect x="381.50" y="419.10" width="14.35" height="14.30" fill="#000090" shape-rendering="crispEdges"/>
<rect x="395.35" y="419.10" width="14.35" height="14.30" fill="#0045ff" shape-rendering="crispEdges"/>
<rect x="243.00" y="432.90" width="14.35" height="14.30" fill="#ff5000" shape-rendering="crispEdges"/>
<rect x="256.85" y="432.90" width="14.35" height="14.30" fill="#ff5000" shape-rendering="crispEdges"/>
<rect x="270.70" y="432.90" width="14.35" height="14.30" fill="#60ff48" shape-rendering="crispEdges"/>
<rect x="284.55" y="432.90" width="14.35" height="14.30" fill="#ffa000" shape-rendering="crispEdges"/>
<rect x="298.40" y="432.90" width="14.35" height="14.30" fill="#c4ff08" shape-rendering="crispEdges"/>
<rect x="312.25" y="432.90" width="14.35" height="14.30" fill="#c4ff08" shape-rendering="crispEdges"/>
<rect x="326.10" y="432.90" width="14.35" height="14.30" fill="#00ffd4" shape-rendering="crispEdges"/>
<rect x="339.95" y="432.90" width="14.35" height="14.30" fill="#00ffff" shape-rendering="crispEdges"/>
<rect x="353.80" y="432.90" width="14.35" height="14.30" fill="#00ffd4" shape-rendering="crispEdges"/>
<rect x="367.65" y="432.90" width="14.35" height="14.30" fill="#ecfb00" shape-rendering="crispEdges"/>
<rect x="381.50" y="432.90" width="14.35" height="14.30" fill="#0045ff" shape-rendering="crispEdges"/>
<rect x="395.35" y="432.90" width="14.35" height="14.30" fill="#000090" shape-rendering="crispEdges"/>
<rect x="243.00" y="281.10" width="166.20" height="165.60" fill="none" stroke="#555" stroke-width="0.8"/>
<path d="M249.9,446.7v-1.5M249.9,281.1v1.5M243.0,288.0h1.5M409.2,288.0h-1.5M263.8,446.7v-1.5M263.8,281.1v1.5M243.0,301.8h1.5M409.2,301.8h-1.5M277.6,446.7v-1.5M277.6,281.1v1.5M243.0,315.6h1.5M409.2,315.6h-1.5M291.5,446.7v-1.5M291.5,281.1v1.5M243.0,329.4h1.5M409.2,329.4h-1.5M305.3,446.7v-1.5M305.3,281.1v1.5M243.0,343.2h1.5M409.2,343.2h-1.5M319.2,446.7v-1.5M319.2,281.1v1.5M243.0,357.0h1.5M409.2,357.0h-1.5M333.0,446.7v-1.5M333.0,281.1v1.5M243.0,370.8h1.5M409.2,370.8h-1.5M346.9,446.7v-1.5M346.9,281.1v1.5M243.0,384.6h1.5M409.2,384.6h-1.5M360.7,446.7v-1.5M360.7,281.1v1.5M243.0,398.4h1.5M409.2,398.4h-1.5M374.6,446.7v-1.5M374.6,281.1v1.5M243.0,412.2h1.5M409.2,412.2h-1.5M388.4,446.7v-1.5M388.4,281.1v1.5M243.0,426.0h1.5M409.2,426.0h-1.5M402.3,446.7v-1.5M402.3,281.1v1.5M243.0,439.8h1.5M409.2,439.8h-1.5" stroke="#444" stroke-width="0.6" fill="none"/>
<rect x="243.00" y="281.10" width="83.10" height="82.80" fill="none" stroke="#000" stroke-width="3"/>
<rect x="326.10" y="363.90" width="83.10" height="82.80" fill="none" stroke="#000" stroke-width="3"/>
<text x="326.1" y="261.5" font-size="9.6" text-anchor="middle">Day 2</text>
<text x="235.8" y="322.5" font-size="10" text-anchor="middle" transform="rotate(-90 235.8 322.5)">Context A</text>
<text x="235.8" y="405.3" font-size="10" text-anchor="middle" transform="rotate(-90 235.8 405.3)">Context B</text>
<text x="284.55" y="462" font-size="10" text-anchor="middle">Context A</text>
<text x="367.65" y="462" font-size="10" text-anchor="middle">Context B</text>
<rect x="442.50" y="281.10" width="14.35" height="14.30" fill="#000090" shape-rendering="crispEdges"/>
<rect x="456.35" y="281.10" width="14.35" height="14.30" fill="#00c4ff" shape-rendering="crispEdges"/>
<rect x="470.20" y="281.10" width="14.35" height="14.30" fill="#60ff48" shape-rendering="crispEdges"/>
<rect x="484.05" y="281.10" width="14.35" height="14.30" fill="#00ff80" shape-rendering="crispEdges"/>
<rect x="497.90" y="281.10" width="14.35" height="14.30" fill="#c4ff08" shape-rendering="crispEdges"/>
<rect x="511.75" y="281.10" width="14.35" height="14.30" fill="#6cff44" shape-rendering="crispEdges"/>
<rect x="525.60" y="281.10" width="14.35" height="14.30" fill="#18ff64" shape-rendering="crispEdges"/>
<rect x="539.45" y="281.10" width="14.35" height="14.30" fill="#ff0000" shape-rendering="crispEdges"/>
<rect x="553.30" y="281.10" width="14.35" height="14.30" fill="#ff9700" shape-rendering="crispEdges"/>
<rect x="567.15" y="281.10" width="14.35" height="14.30" fill="#ff1c00" shape-rendering="crispEdges"/>
<rect x="581.00" y="281.10" width="14.35" height="14.30" fill="#cc0000" shape-rendering="crispEdges"/>
<rect x="594.85" y="281.10" width="14.35" height="14.30" fill="#ff8000" shape-rendering="crispEdges"/>
<rect x="442.50" y="294.90" width="14.35" height="14.30" fill="#00c4ff" shape-rendering="crispEdges"/>
<rect x="456.35" y="294.90" width="14.35" height="14.30" fill="#000090" shape-rendering="crispEdges"/>
<rect x="470.20" y="294.90" width="14.35" height="14.30" fill="#00ffd4" shape-rendering="crispEdges"/>
<rect x="484.05" y="294.90" width="14.35" height="14.30" fill="#00a4ff" shape-rendering="crispEdges"/>
<rect x="497.90" y="294.90" width="14.35" height="14.30" fill="#00ffc4" shape-rendering="crispEdges"/>
<rect x="511.75" y="294.90" width="14.35" height="14.30" fill="#6cff44" shape-rendering="crispEdges"/>
<rect x="525.60" y="294.90" width="14.35" height="14.30" fill="#00ffa8" shape-rendering="crispEdges"/>
<rect x="539.45" y="294.90" width="14.35" height="14.30" fill="#c60000" shape-rendering="crispEdges"/>
<rect x="553.30" y="294.90" width="14.35" height="14.30" fill="#ff6800" shape-rendering="crispEdges"/>
<rect x="567.15" y="294.90" width="14.35" height="14.30" fill="#ff6000" shape-rendering="crispEdges"/>
<rect x="581.00" y="294.90" width="14.35" height="14.30" fill="#900000" shape-rendering="crispEdges"/>
<rect x="594.85" y="294.90" width="14.35" height="14.30" fill="#ff0000" shape-rendering="crispEdges"/>
<rect x="442.50" y="308.70" width="14.35" height="14.30" fill="#60ff48" shape-rendering="crispEdges"/>
<rect x="456.35" y="308.70" width="14.35" height="14.30" fill="#00ffd4" shape-rendering="crispEdges"/>
<rect x="470.20" y="308.70" width="14.35" height="14.30" fill="#000090" shape-rendering="crispEdges"/>
<rect x="484.05" y="308.70" width="14.35" height="14.30" fill="#0050ff" shape-rendering="crispEdges"/>
<rect x="497.90" y="308.70" width="14.35" height="14.30" fill="#0010ff" shape-rendering="crispEdges"/>
<rect x="511.75" y="308.70" width="14.35" height="14.30" fill="#18ff64" shape-rendering="crispEdges"/>
<rect x="525.60" y="308.70" width="14.35" height="14.30" fill="#e0ff00" shape-rendering="crispEdges"/>
<rect x="539.45" y="308.70" width="14.35" height="14.30" fill="#e00000" shape-rendering="crispEdges"/>
<rect x="553.30" y="308.70" width="14.35" height="14.30" fill="#ff6800" shape-rendering="crispEdges"/>
<rect x="567.15" y="308.70" width="14.35" height="14.30" fill="#ff4000" shape-rendering="crispEdges"/>
<rect x="581.00" y="308.70" width="14.35" height="14.30" fill="#ff0800" shape-rendering="crispEdges"/>
<rect x="594.85" y="308.70" width="14.35" height="14.30" fill="#ff6800" shape-rendering="crispEdges"/>
<rect x="442.50" y="322.50" width="14.35" height="14.30" fill="#00ff80" shape-rendering="crispEdges"/>
<rect x="456.35" y="322.50" width="14.35" height="14.30" fill="#00a4ff" shape-rendering="crispEdges"/>
<rect x="470.20" y="322.50" width="14.35" height="14.30" fill="#0050ff" shape-rendering="crispEdges"/>
<rect x="484.05" y="322.50" width="14.35" height="14.30" fill="#000090" shape-rendering="crispEdges"/>
<rect x="497.90" y="322.50" width="14.35" height="14.30" fill="#00c4ff" shape-rendering="crispEdges"/>
<rect x="511.75" y="322.50" width="14.35" height="14.30" fill="#00ff90" shape-rendering="crispEdges"/>
<rect x="525.60" y="322.50" width="14.35" height="14.30" fill="#60ff48" shape-rendering="crispEdges"/>
<rect x="539.45" y="322.50" width="14.35" height="14.30" fill="#ff0c00" shape-rendering="crispEdges"/>
<rect x="553.30" y="322.50" width="14.35" height="14.30" fill="#e0ff00" shape-rendering="crispEdges"/>
<rect x="567.15" y="322.50" width="14.35" height="14.30" fill="#ff8000" shape-rendering="crispEdges"/>
<rect x="581.00" y="322.50" width="14.35" height="14.30" fill="#ff0800" shape-rendering="crispEdges"/>
<rect x="594.85" y="322.50" width="14.35" height="14.30" fill="#ff6000" shape-rendering="crispEdges"/>
<rect x="442.50" y="336.30" width="14.35" height="14.30" fill="#c4ff08" shape-rendering="crispEdges"/>
<rect x="456.35" y="336.30" width="14.35" height="14.30" fill="#00ffc4" shape-rendering="crispEdges"/>
<rect x="470.20" y="336.30" width="14.35" height="14.30" fill="#0010ff" shape-rendering="crispEdges"/>
<rect x="484.05" y="336.30" width="14.35" height="14.30" fill="#00c4ff" shape-rendering="crispEdges"/>
<rect x="497.90" y="336.30" width="14.35" height="14.30" fill="#000090" shape-rendering="crispEdges"/>
<rect x="511.75" y="336.30" width="14.35" height="14.30" fill="#00ffe8" shape-rendering="crispEdges"/>
<rect x="525.60" y="336.30" width="14.35" height="14.30" fill="#6cff44" shape-rendering="crispEdges"/>
<rect x="539.45" y="336.30" width="14.35" height="14.30" fill="#ff0800" shape-rendering="crispEdges"/>
<rect x="553.30" y="336.30" width="14.35" height="14.30" fill="#ffa800" shape-rendering="crispEdges"/>
<rect x="567.15" y="336.30" width="14.35" height="14.30" fill="#ffb600" shape-rendering="crispEdges"/>
<rect x="581.00" y="336.30" width="14.35" height="14.30" fill="#ff1700" shape-rendering="crispEdges"/>
<rect x="594.85" y="336.30" width="14.35" height="14.30" fill="#ff6d00" shape-rendering="crispEdges"/>
<rect x="442.50" y="350.10" width="14.35" height="14.30" fill="#6cff44" shape-rendering="crispEdges"/>
<rect x="456.35" y="350.10" width="14.35" height="14.30" fill="#6cff44" shape-rendering="crispEdges"/>
<rect x="470.20" y="350.10" width="14.35" height="14.30" fill="#18ff64" shape-rendering="crispEdges"/>
<rect x="484.05" y="350.10" width="14.35" height="14.30" fill="#00ff90" shape-rendering="crispEdges"/>
<rect x="497.90" y="350.10" width="14.35" height="14.30" fill="#00ffe8" shape-rendering="crispEdges"/>
<rect x="511.75" y="350.10" width="14.35" height="14.30" fill="#000090" shape-rendering="crispEdges"/>
<rect x="525.60" y="350.10" width="14.35" height="14.30" fill="#00ffc4" shape-rendering="crispEdges"/>
<rect x="539.45" y="350.10" width="14.35" height="14.30" fill="#60ff48" shape-rendering="crispEdges"/>
<rect x="553.30" y="350.10" width="14.35" height="14.30" fill="#90ff28" shape-rendering="crispEdges"/>
<rect x="567.15" y="350.10" width="14.35" height="14.30" fill="#00ff80" shape-rendering="crispEdges"/>
<rect x="581.00" y="350.10" width="14.35" height="14.30" fill="#00ffd4" shape-rendering="crispEdges"/>
<rect x="594.85" y="350.10" width="14.35" height="14.30" fill="#00fff4" shape-rendering="crispEdges"/>
<rect x="442.50" y="363.90" width="14.35" height="14.30" fill="#18ff64" shape-rendering="crispEdges"/>
<rect x="456.35" y="363.90" width="14.35" height="14.30" fill="#00ffa8" shape-rendering="crispEdges"/>
<rect x="470.20" y="363.90" width="14.35" height="14.30" fill="#e0ff00" shape-rendering="crispEdges"/>
<rect x="484.05" y="363.90" width="14.35" height="14.30" fill="#60ff48" shape-rendering="crispEdges"/>
<rect x="497.90" y="363.90" width="14.35" height="14.30" fill="#6cff44" shape-rendering="crispEdges"/>
<rect x="511.75" y="363.90" width="14.35" height="14.30" fill="#00ffc4" shape-rendering="crispEdges"/>
<rect x="525.60" y="363.90" width="14.35" height="14.30" fill="#000090" shape-rendering="crispEdges"/>
<rect x="539.45" y="363.90" width="14.35" height="14.30" fill="#e0ff00" shape-rendering="crispEdges"/>
<rect x="553.30" y="363.90" width="14.35" height="14.30" fill="#00ffa8" shape-rendering="crispEdges"/>
<rect x="567.15" y="363.90" width="14.35" height="14.30" fill="#00ffc4" shape-rendering="crispEdges"/>
<rect x="581.00" y="363.90" width="14.35" height="14.30" fill="#c4ff08" shape-rendering="crispEdges"/>
<rect x="594.85" y="363.90" width="14.35" height="14.30" fill="#90ff28" shape-rendering="crispEdges"/>
<rect x="442.50" y="377.70" width="14.35" height="14.30" fill="#ff0000" shape-rendering="crispEdges"/>
<rect x="456.35" y="377.70" width="14.35" height="14.30" fill="#c60000" shape-rendering="crispEdges"/>
<rect x="470.20" y="377.70" width="14.35" height="14.30" fill="#e00000" shape-rendering="crispEdges"/>
<rect x="484.05" y="377.70" width="14.35" height="14.30" fill="#ff0c00" shape-rendering="crispEdges"/>
<rect x="497.90" y="377.70" width="14.35" height="14.30" fill="#ff0800" shape-rendering="crispEdges"/>
<rect x="511.75" y="377.70" width="14.35" height="14.30" fill="#60ff48" shape-rendering="crispEdges"/>
<rect x="525.60" y="377.70" width="14.35" height="14.30" fill="#e0ff00" shape-rendering="crispEdges"/>
<rect x="539.45" y="377.70" width="14.35" height="14.30" fill="#000090" shape-rendering="crispEdges"/>
<rect x="553.30" y="377.70" width="14.35" height="14.30" fill="#00ffd4" shape-rendering="crispEdges"/>
<rect x="567.15" y="377.70" width="14.35" height="14.30" fill="#002bff" shape-rendering="crispEdges"/>
<rect x="581.00" y="377.70" width="14.35" height="14.30" fill="#0045ff" shape-rendering="crispEdges"/>
<rect x="594.85" y="377.70" width="14.35" height="14.30" fill="#0045ff" shape-rendering="crispEdges"/>
<rect x="442.50" y="391.50" width="14.35" height="14.30" fill="#ff9700" shape-rendering="crispEdges"/>
<rect x="456.35" y="391.50" width="14.35" height="14.30" fill="#ff6800" shape-rendering="crispEdges"/>
<rect x="470.20" y="391.50" width="14.35" height="14.30" fill="#ff6800" shape-rendering="crispEdges"/>
<rect x="484.05" y="391.50" width="14.35" height="14.30" fill="#e0ff00" shape-rendering="crispEdges"/>
<rect x="497.90" y="391.50" width="14.35" height="14.30" fill="#ffa800" shape-rendering="crispEdges"/>
<rect x="511.75" y="391.50" width="14.35" height="14.30" fill="#90ff28" shape-rendering="crispEdges"/>
<rect x="525.60" y="391.50" width="14.35" height="14.30" fill="#00ffa8" shape-rendering="crispEdges"/>
<rect x="539.45" y="391.50" width="14.35" height="14.30" fill="#00ffd4" shape-rendering="crispEdges"/>
<rect x="553.30" y="391.50" width="14.35" height="14.30" fill="#000090" shape-rendering="crispEdges"/>
<rect x="567.15" y="391.50" width="14.35" height="14.30" fill="#00beff" shape-rendering="crispEdges"/>
<rect x="581.00" y="391.50" width="14.35" height="14.30" fill="#00ff80" shape-rendering="crispEdges"/>
<rect x="594.85" y="391.50" width="14.35" height="14.30" fill="#18ff64" shape-rendering="crispEdges"/>
<rect x="442.50" y="405.30" width="14.35" height="14.30" fill="#ff1c00" shape-rendering="crispEdges"/>
<rect x="456.35" y="405.30" width="14.35" height="14.30" fill="#ff6000" shape-rendering="crispEdges"/>
<rect x="470.20" y="405.30" width="14.35" height="14.30" fill="#ff4000" shape-rendering="crispEdges"/>
<rect x="484.05" y="405.30" width="14.35" height="14.30" fill="#ff8000" shape-rendering="crispEdges"/>
<rect x="497.90" y="405.30" width="14.35" height="14.30" fill="#ffb600" shape-rendering="crispEdges"/>
<rect x="511.75" y="405.30" width="14.35" height="14.30" fill="#00ff80" shape-rendering="crispEdges"/>
<rect x="525.60" y="405.30" width="14.35" height="14.30" fill="#00ffc4" shape-rendering="crispEdges"/>
<rect x="539.45" y="405.30" width="14.35" height="14.30" fill="#002bff" shape-rendering="crispEdges"/>
<rect x="553.30" y="405.30" width="14.35" height="14.30" fill="#00beff" shape-rendering="crispEdges"/>
<rect x="567.15" y="405.30" width="14.35" height="14.30" fill="#000090" shape-rendering="crispEdges"/>
<rect x="581.00" y="405.30" width="14.35" height="14.30" fill="#00b1ff" shape-rendering="crispEdges"/>
<rect x="594.85" y="405.30" width="14.35" height="14.30" fill="#00beff" shape-rendering="crispEdges"/>
<rect x="442.50" y="419.10" width="14.35" height="14.30" fill="#cc0000" shape-rendering="crispEdges"/>
<rect x="456.35" y="419.10" width="14.35" height="14.30" fill="#900000" shape-rendering="crispEdges"/>
<rect x="470.20" y="419.10" width="14.35" height="14.30" fill="#ff0800" shape-rendering="crispEdges"/>
<rect x="484.05" y="419.10" width="14.35" height="14.30" fill="#ff0800" shape-rendering="crispEdges"/>
<rect x="497.90" y="419.10" width="14.35" height="14.30" fill="#ff1700" shape-rendering="crispEdges"/>
<rect x="511.75" y="419.10" width="14.35" height="14.30" fill="#00ffd4" shape-rendering="crispEdges"/>
<rect x="525.60" y="419.10" width="14.35" height="14.30" fill="#c4ff08" shape-rendering="crispEdges"/>
<rect x="539.45" y="419.10" width="14.35" height="14.30" fill="#0045ff" shape-rendering="crispEdges"/>
<rect x="553.30" y="419.10" width="14.35" height="14.30" fill="#00ff80" shape-rendering="crispEdges"/>
<rect x="567.15" y="419.10" width="14.35" height="14.30" fill="#00b1ff" shape-rendering="crispEdges"/>
<rect x="581.00" y="419.10" width="14.35" height="14.30" fill="#000090" shape-rendering="crispEdges"/>
<rect x="594.85" y="419.10" width="14.35" height="14.30" fill="#0080ff" shape-rendering="crispEdges"/>
<rect x="442.50" y="432.90" width="14.35" height="14.30" fill="#ff8000" shape-rendering="crispEdges"/>
<rect x="456.35" y="432.90" width="14.35" height="14.30" fill="#ff0000" shape-rendering="crispEdges"/>
<rect x="470.20" y="432.90" width="14.35" height="14.30" fill="#ff6800" shape-rendering="crispEdges"/>
<rect x="484.05" y="432.90" width="14.35" height="14.30" fill="#ff6000" shape-rendering="crispEdges"/>
<rect x="497.90" y="432.90" width="14.35" height="14.30" fill="#ff6d00" shape-rendering="crispEdges"/>
<rect x="511.75" y="432.90" width="14.35" height="14.30" fill="#00fff4" shape-rendering="crispEdges"/>
<rect x="525.60" y="432.90" width="14.35" height="14.30" fill="#90ff28" shape-rendering="crispEdges"/>
<rect x="539.45" y="432.90" width="14.35" height="14.30" fill="#0045ff" shape-rendering="crispEdges"/>
<rect x="553.30" y="432.90" width="14.35" height="14.30" fill="#18ff64" shape-rendering="crispEdges"/>
<rect x="567.15" y="432.90" width="14.35" height="14.30" fill="#00beff" shape-rendering="crispEdges"/>
<rect x="581.00" y="432.90" width="14.35" height="14.30" fill="#0080ff" shape-rendering="crispEdges"/>
<rect x="594.85" y="432.90" width="14.35" height="14.30" fill="#000090" shape-rendering="crispEdges"/>
<rect x="442.50" y="281.10" width="166.20" height="165.60" fill="none" stroke="#555" stroke-width="0.8"/>
<path d="M449.4,446.7v-1.5M449.4,281.1v1.5M442.5,288.0h1.5M608.7,288.0h-1.5M463.3,446.7v-1.5M463.3,281.1v1.5M442.5,301.8h1.5M608.7,301.8h-1.5M477.1,446.7v-1.5M477.1,281.1v1.5M442.5,315.6h1.5M608.7,315.6h-1.5M491.0,446.7v-1.5M491.0,281.1v1.5M442.5,329.4h1.5M608.7,329.4h-1.5M504.8,446.7v-1.5M504.8,281.1v1.5M442.5,343.2h1.5M608.7,343.2h-1.5M518.7,446.7v-1.5M518.7,281.1v1.5M442.5,357.0h1.5M608.7,357.0h-1.5M532.5,446.7v-1.5M532.5,281.1v1.5M442.5,370.8h1.5M608.7,370.8h-1.5M546.4,446.7v-1.5M546.4,281.1v1.5M442.5,384.6h1.5M608.7,384.6h-1.5M560.2,446.7v-1.5M560.2,281.1v1.5M442.5,398.4h1.5M608.7,398.4h-1.5M574.1,446.7v-1.5M574.1,281.1v1.5M442.5,412.2h1.5M608.7,412.2h-1.5M587.9,446.7v-1.5M587.9,281.1v1.5M442.5,426.0h1.5M608.7,426.0h-1.5M601.8,446.7v-1.5M601.8,281.1v1.5M442.5,439.8h1.5M608.7,439.8h-1.5" stroke="#444" stroke-width="0.6" fill="none"/>
<rect x="442.50" y="281.10" width="83.10" height="82.80" fill="none" stroke="#000" stroke-width="3"/>
<rect x="525.60" y="363.90" width="83.10" height="82.80" fill="none" stroke="#000" stroke-width="3"/>
<text x="525.6" y="261.5" font-size="9.6" text-anchor="middle">Day 3</text>
<text x="435.3" y="322.5" font-size="10" text-anchor="middle" transform="rotate(-90 435.3 322.5)">Context A</text>
<text x="435.3" y="405.3" font-size="10" text-anchor="middle" transform="rotate(-90 435.3 405.3)">Context B</text>
<text x="484.05" y="462" font-size="10" text-anchor="middle">Context A</text>
<text x="567.15" y="462" font-size="10" text-anchor="middle">Context B</text>
<defs><linearGradient id="cb" x1="0" y1="0" x2="0" y2="1"><stop offset="0.00" stop-color="#800000"/><stop offset="0.05" stop-color="#c00000"/><stop offset="0.10" stop-color="#f00000"/><stop offset="0.15" stop-color="#ff1c00"/><stop offset="0.20" stop-color="#ff5000"/><stop offset="0.25" stop-color="#ff7b00"/><stop offset="0.30" stop-color="#ffa800"/><stop offset="0.35" stop-color="#ffdf00"/><stop offset="0.40" stop-color="#daff02"/><stop offset="0.45" stop-color="#98ff24"/><stop offset="0.50" stop-color="#60ff48"/><stop offset="0.55" stop-color="#00ff98"/><stop offset="0.60" stop-color="#00ffe8"/><stop offset="0.65" stop-color="#00e4ff"/><stop offset="0.70" stop-color="#00b1ff"/><stop offset="0.75" stop-color="#0080ff"/><stop offset="0.80" stop-color="#0050ff"/><stop offset="0.85" stop-color="#001bff"/><stop offset="0.90" stop-color="#0000e5"/><stop offset="0.95" stop-color="#0000b0"/><stop offset="1.00" stop-color="#000080"/></linearGradient></defs>
<rect x="621.50" y="281.30" width="8.00" height="166.00" fill="url(#cb)" stroke="#444" stroke-width="0.6"/>
<text x="633.6" y="287.1" font-size="10">0.35</text>
<line x1="627.50" y1="283.60" x2="629.50" y2="283.60" stroke="#444" stroke-width="0.6" />
<text x="633.6" y="319.1" font-size="10">0.3</text>
<line x1="627.50" y1="315.60" x2="629.50" y2="315.60" stroke="#444" stroke-width="0.6" />
<text x="633.6" y="351.3" font-size="10">0.25</text>
<line x1="627.50" y1="347.80" x2="629.50" y2="347.80" stroke="#444" stroke-width="0.6" />
<text x="633.6" y="383.6" font-size="10">0.2</text>
<line x1="627.50" y1="380.10" x2="629.50" y2="380.10" stroke="#444" stroke-width="0.6" />
<text x="633.6" y="415.8" font-size="10">0.15</text>
<line x1="627.50" y1="412.30" x2="629.50" y2="412.30" stroke="#444" stroke-width="0.6" />
<text x="633.6" y="448.0" font-size="10">0.1</text>
<line x1="627.50" y1="444.50" x2="629.50" y2="444.50" stroke="#444" stroke-width="0.6" />
<text x="625.3" y="256.1" font-size="8" text-anchor="middle">average rate</text>
<text x="625.3" y="265.4" font-size="8" text-anchor="middle">difference (Hz)</text>
<text x="119.6" y="506.3" font-size="10" text-anchor="middle">Support Vector Machine</text>
<rect x="14.70" y="514.00" width="210.00" height="71.50" fill="none" stroke="#15a89b" stroke-width="6"/>
<rect x="14.70" y="595.80" width="210.00" height="71.30" fill="none" stroke="#9a9a9a" stroke-width="6"/>
<rect x="14.70" y="677.30" width="210.00" height="71.20" fill="none" stroke="#d77c7c" stroke-width="6"/>
<text x="90.3" y="531.6" font-size="10" text-anchor="middle">Cell 1</text>
<text x="142.6" y="531.6" font-size="10" text-anchor="middle">Cell 2</text>
<text x="194.5" y="531.6" font-size="10" text-anchor="middle">Cell 3</text>
<text x="43.5" y="544.7" font-size="10" text-anchor="middle">Class A</text>
<text x="44.0" y="556.9" font-size="10" text-anchor="middle">Trial Rates</text>
<text x="90.3" y="613.0" font-size="10" text-anchor="middle">Cell 1</text>
<text x="142.6" y="613.0" font-size="10" text-anchor="middle">Cell 2</text>
<text x="194.5" y="613.0" font-size="10" text-anchor="middle">Cell 3</text>
<text x="43.5" y="626.3" font-size="10" text-anchor="middle">Withheld</text>
<text x="44.0" y="639.3" font-size="10" text-anchor="middle">Trial Rates</text>
<text x="90.3" y="694.3" font-size="10" text-anchor="middle">Cell 1</text>
<text x="142.6" y="694.3" font-size="10" text-anchor="middle">Cell 2</text>
<text x="194.5" y="694.3" font-size="10" text-anchor="middle">Cell 3</text>
<text x="43.5" y="708.3" font-size="10" text-anchor="middle">Class B</text>
<text x="44.0" y="720.9" font-size="10" text-anchor="middle">Trial Rates</text>
<polygon points="72.51,558.56 87.25,553.34 95.89,555.84 81.16,561.06" fill="#00008c" stroke="#000" stroke-width="1.04" stroke-linejoin="round"/>
<defs><linearGradient id="pk1" x1="0" y1="1" x2="0" y2="0"><stop offset="0.0" stop-color="#0000d0"/><stop offset="0.1" stop-color="#002dff"/><stop offset="0.2" stop-color="#0084ff"/><stop offset="0.3" stop-color="#00dcff"/><stop offset="0.4" stop-color="#00ffbe"/><stop offset="0.5" stop-color="#72ff42"/><stop offset="0.6" stop-color="#ddff01"/><stop offset="0.7" stop-color="#ffb100"/><stop offset="0.8" stop-color="#ff6300"/><stop offset="0.9" stop-color="#ff0e00"/><stop offset="1.0" stop-color="#c00000"/></linearGradient></defs>
<polygon points="77.84,556.32 78.52,555.52 79.20,554.40 79.89,552.98 80.57,551.33 81.25,549.65 81.94,548.18 82.62,547.16 83.30,546.80 83.98,547.16 84.66,548.18 85.35,549.65 86.03,551.33 86.71,552.98 87.39,554.40 88.08,555.52 88.76,556.32" fill="url(#pk1)"/>
<polygon points="87.81,562.86 102.55,557.64 111.19,560.14 96.45,565.36" fill="#00008c" stroke="#000" stroke-width="1.04" stroke-linejoin="round"/>
<defs><linearGradient id="pk2" x1="0" y1="1" x2="0" y2="0"><stop offset="0.0" stop-color="#0000d0"/><stop offset="0.1" stop-color="#002fff"/><stop offset="0.2" stop-color="#0087ff"/><stop offset="0.3" stop-color="#00e1ff"/><stop offset="0.4" stop-color="#00ffaf"/><stop offset="0.5" stop-color="#7eff3a"/><stop offset="0.6" stop-color="#ebfb00"/><stop offset="0.7" stop-color="#ffa600"/><stop offset="0.8" stop-color="#ff5600"/><stop offset="0.9" stop-color="#fe0000"/><stop offset="1.0" stop-color="#a80000"/></linearGradient></defs>
<polygon points="91.88,560.20 92.59,558.99 93.31,557.28 94.02,555.11 94.74,552.61 95.45,550.05 96.17,547.80 96.88,546.25 97.60,545.70 98.31,546.25 99.03,547.80 99.74,550.05 100.46,552.61 101.17,555.11 101.89,557.28 102.60,558.99 103.32,560.20" fill="url(#pk2)"/>
<polygon points="71.81,569.96 86.55,564.74 95.19,567.24 80.45,572.46" fill="#00008c" stroke="#000" stroke-width="1.04" stroke-linejoin="round"/>
<defs><linearGradient id="pk3" x1="0" y1="1" x2="0" y2="0"><stop offset="0.0" stop-color="#0000d0"/><stop offset="0.1" stop-color="#0027ff"/><stop offset="0.2" stop-color="#007aff"/><stop offset="0.3" stop-color="#00ceff"/><stop offset="0.4" stop-color="#00ffd8"/><stop offset="0.5" stop-color="#3cff56"/><stop offset="0.6" stop-color="#b6ff12"/><stop offset="0.7" stop-color="#ffdb00"/><stop offset="0.8" stop-color="#ff8800"/><stop offset="0.9" stop-color="#ff3a00"/><stop offset="1.0" stop-color="#f00000"/></linearGradient></defs>
<polygon points="77.00,567.88 77.65,567.11 78.30,566.05 78.95,564.69 79.60,563.12 80.25,561.52 80.90,560.11 81.55,559.15 82.20,558.80 82.85,559.15 83.50,560.11 84.15,561.52 84.80,563.12 85.45,564.69 86.10,566.05 86.75,567.11 87.40,567.88" fill="url(#pk3)"/>
<polygon points="121.81,567.96 136.54,562.74 145.19,565.24 130.46,570.46" fill="#00008c" stroke="#000" stroke-width="1.04" stroke-linejoin="round"/>
<defs><linearGradient id="pk4" x1="0" y1="1" x2="0" y2="0"><stop offset="0.0" stop-color="#0000d0"/><stop offset="0.1" stop-color="#002dff"/><stop offset="0.2" stop-color="#0084ff"/><stop offset="0.3" stop-color="#00dcff"/><stop offset="0.4" stop-color="#00ffbe"/><stop offset="0.5" stop-color="#72ff42"/><stop offset="0.6" stop-color="#ddff01"/><stop offset="0.7" stop-color="#ffb100"/><stop offset="0.8" stop-color="#ff6300"/><stop offset="0.9" stop-color="#ff0e00"/><stop offset="1.0" stop-color="#c00000"/></linearGradient></defs>
<polygon points="128.70,564.29 129.35,562.80 130.00,560.71 130.65,558.05 131.30,554.98 131.95,551.83 132.60,549.07 133.25,547.18 133.90,546.50 134.55,547.18 135.20,549.07 135.85,551.83 136.50,554.98 137.15,558.05 137.80,560.71 138.45,562.80 139.10,564.29" fill="url(#pk4)"/>
<polygon points="140.51,569.36 155.24,564.14 163.89,566.64 149.15,571.86" fill="#00008c" stroke="#000" stroke-width="1.04" stroke-linejoin="round"/>
<defs><linearGradient id="pk5" x1="0" y1="1" x2="0" y2="0"><stop offset="0.0" stop-color="#0000d0"/><stop offset="0.1" stop-color="#0032ff"/><stop offset="0.2" stop-color="#008dff"/><stop offset="0.3" stop-color="#00e9ff"/><stop offset="0.4" stop-color="#00ff9b"/><stop offset="0.5" stop-color="#90ff28"/><stop offset="0.6" stop-color="#fff200"/><stop offset="0.7" stop-color="#ff9300"/><stop offset="0.8" stop-color="#ff3b00"/><stop offset="0.9" stop-color="#e90000"/><stop offset="1.0" stop-color="#800000"/></linearGradient></defs>
<polygon points="145.68,565.49 146.40,563.45 147.11,560.60 147.83,556.96 148.54,552.77 149.25,548.48 149.97,544.71 150.69,542.12 151.40,541.20 152.12,542.12 152.83,544.71 153.55,548.48 154.26,552.77 154.97,556.96 155.69,560.60 156.41,563.45 157.12,565.49" fill="url(#pk5)"/>
<polygon points="121.31,576.56 136.04,571.34 144.69,573.84 129.96,579.06" fill="#00008c" stroke="#000" stroke-width="1.04" stroke-linejoin="round"/>
<defs><linearGradient id="pk6" x1="0" y1="1" x2="0" y2="0"><stop offset="0.0" stop-color="#0000d0"/><stop offset="0.1" stop-color="#002dff"/><stop offset="0.2" stop-color="#0084ff"/><stop offset="0.3" stop-color="#00dcff"/><stop offset="0.4" stop-color="#00ffbe"/><stop offset="0.5" stop-color="#72ff42"/><stop offset="0.6" stop-color="#ddff01"/><stop offset="0.7" stop-color="#ffb100"/><stop offset="0.8" stop-color="#ff6300"/><stop offset="0.9" stop-color="#ff0e00"/><stop offset="1.0" stop-color="#c00000"/></linearGradient></defs>
<polygon points="127.60,573.65 128.25,572.39 128.90,570.64 129.55,568.40 130.20,565.82 130.85,563.18 131.50,560.86 132.15,559.27 132.80,558.70 133.45,559.27 134.10,560.86 134.75,563.18 135.40,565.82 136.05,568.40 136.70,570.64 137.35,572.39 138.00,573.65" fill="url(#pk6)"/>
<polygon points="173.81,557.56 188.54,552.34 197.19,554.84 182.45,560.06" fill="#00008c" stroke="#000" stroke-width="1.04" stroke-linejoin="round"/>
<defs><linearGradient id="pk7" x1="0" y1="1" x2="0" y2="0"><stop offset="0.0" stop-color="#0000d0"/><stop offset="0.1" stop-color="#0012ff"/><stop offset="0.2" stop-color="#0054ff"/><stop offset="0.3" stop-color="#008eff"/><stop offset="0.4" stop-color="#00d0ff"/><stop offset="0.5" stop-color="#00fff4"/><stop offset="0.6" stop-color="#00ff95"/><stop offset="0.7" stop-color="#71ff42"/><stop offset="0.8" stop-color="#bdff0d"/><stop offset="0.9" stop-color="#ffec00"/><stop offset="1.0" stop-color="#ffa800"/></linearGradient></defs>
<polygon points="180.75,555.95 181.32,555.58 181.89,555.05 182.46,554.39 183.03,553.62 183.59,552.83 184.16,552.14 184.73,551.67 185.30,551.50 185.87,551.67 186.44,552.14 187.01,552.83 187.58,553.62 188.14,554.39 188.71,555.05 189.28,555.58 189.85,555.95" fill="url(#pk7)"/>
<polygon points="192.11,558.16 206.84,552.94 215.49,555.44 200.75,560.66" fill="#00008c" stroke="#000" stroke-width="1.04" stroke-linejoin="round"/>
<defs><linearGradient id="pk8" x1="0" y1="1" x2="0" y2="0"><stop offset="0.0" stop-color="#0000d0"/><stop offset="0.1" stop-color="#001dff"/><stop offset="0.2" stop-color="#0067ff"/><stop offset="0.3" stop-color="#00acff"/><stop offset="0.4" stop-color="#00f4ff"/><stop offset="0.5" stop-color="#00ffa8"/><stop offset="0.6" stop-color="#6eff43"/><stop offset="0.7" stop-color="#c8ff07"/><stop offset="0.8" stop-color="#ffd900"/><stop offset="0.9" stop-color="#ff9000"/><stop offset="1.0" stop-color="#ff5000"/></linearGradient></defs>
<polygon points="198.45,556.32 199.02,555.85 199.59,555.21 200.16,554.38 200.72,553.43 201.29,552.45 201.86,551.60 202.43,551.01 203.00,550.80 203.57,551.01 204.14,551.60 204.71,552.45 205.28,553.43 205.84,554.38 206.41,555.21 206.98,555.85 207.55,556.32" fill="url(#pk8)"/>
<polygon points="173.81,565.16 188.54,559.94 197.19,562.44 182.45,567.66" fill="#00008c" stroke="#000" stroke-width="1.04" stroke-linejoin="round"/>
<defs><linearGradient id="pk9" x1="0" y1="1" x2="0" y2="0"><stop offset="0.0" stop-color="#0000d0"/><stop offset="0.1" stop-color="#0012ff"/><stop offset="0.2" stop-color="#0054ff"/><stop offset="0.3" stop-color="#008eff"/><stop offset="0.4" stop-color="#00d0ff"/><stop offset="0.5" stop-color="#00fff4"/><stop offset="0.6" stop-color="#00ff95"/><stop offset="0.7" stop-color="#71ff42"/><stop offset="0.8" stop-color="#bdff0d"/><stop offset="0.9" stop-color="#ffec00"/><stop offset="1.0" stop-color="#ffa800"/></linearGradient></defs>
<polygon points="180.75,563.50 181.32,563.17 181.89,562.70 182.46,562.10 183.03,561.41 183.59,560.70 184.16,560.08 184.73,559.65 185.30,559.50 185.87,559.65 186.44,560.08 187.01,560.70 187.58,561.41 188.14,562.10 188.71,562.70 189.28,563.17 189.85,563.50" fill="url(#pk9)"/>
<polygon points="70.75,647.75 96.15,638.75 111.05,643.05 85.65,652.05" fill="#00008c" stroke="#000" stroke-width="1.30" stroke-linejoin="round"/>
<defs><linearGradient id="pk10" x1="0" y1="1" x2="0" y2="0"><stop offset="0.0" stop-color="#0000d0"/><stop offset="0.1" stop-color="#002fff"/><stop offset="0.2" stop-color="#0087ff"/><stop offset="0.3" stop-color="#00e1ff"/><stop offset="0.4" stop-color="#00ffaf"/><stop offset="0.5" stop-color="#7eff3a"/><stop offset="0.6" stop-color="#ebfb00"/><stop offset="0.7" stop-color="#ffa600"/><stop offset="0.8" stop-color="#ff5600"/><stop offset="0.9" stop-color="#fe0000"/><stop offset="1.0" stop-color="#a80000"/></linearGradient></defs>
<polygon points="82.52,644.07 83.43,642.77 84.34,640.94 85.25,638.60 86.16,635.92 87.07,633.17 87.98,630.75 88.89,629.09 89.80,628.50 90.71,629.09 91.62,630.75 92.53,633.17 93.44,635.92 94.35,638.60 95.26,640.94 96.17,642.77 97.08,644.07" fill="url(#pk10)"/>
<polygon points="123.66,647.83 147.79,639.28 161.94,643.37 137.81,651.92" fill="#00008c" stroke="#000" stroke-width="1.23" stroke-linejoin="round"/>
<defs><linearGradient id="pk11" x1="0" y1="1" x2="0" y2="0"><stop offset="0.0" stop-color="#0000d0"/><stop offset="0.1" stop-color="#0027ff"/><stop offset="0.2" stop-color="#007aff"/><stop offset="0.3" stop-color="#00ceff"/><stop offset="0.4" stop-color="#00ffd8"/><stop offset="0.5" stop-color="#3cff56"/><stop offset="0.6" stop-color="#b6ff12"/><stop offset="0.7" stop-color="#ffdb00"/><stop offset="0.8" stop-color="#ff8800"/><stop offset="0.9" stop-color="#ff3a00"/><stop offset="1.0" stop-color="#f00000"/></linearGradient></defs>
<polygon points="135.58,644.21 136.46,643.01 137.33,641.31 138.21,639.15 139.09,636.67 139.97,634.12 140.84,631.89 141.72,630.35 142.60,629.80 143.48,630.35 144.35,631.89 145.23,634.12 146.11,636.67 146.99,639.15 147.86,641.31 148.74,643.01 149.62,644.21" fill="url(#pk11)"/>
<polygon points="175.15,641.68 199.79,632.95 214.25,637.12 189.61,645.85" fill="#00008c" stroke="#000" stroke-width="1.26" stroke-linejoin="round"/>
<defs><linearGradient id="pk12" x1="0" y1="1" x2="0" y2="0"><stop offset="0.0" stop-color="#0000d0"/><stop offset="0.1" stop-color="#0022ff"/><stop offset="0.2" stop-color="#0071ff"/><stop offset="0.3" stop-color="#00bfff"/><stop offset="0.4" stop-color="#00fff6"/><stop offset="0.5" stop-color="#00ff80"/><stop offset="0.6" stop-color="#92ff27"/><stop offset="0.7" stop-color="#f1f900"/><stop offset="0.8" stop-color="#ffab00"/><stop offset="0.9" stop-color="#ff6600"/><stop offset="1.0" stop-color="#ff1c00"/></linearGradient></defs>
<polygon points="187.35,639.23 188.24,638.71 189.14,637.97 190.03,637.04 190.93,635.97 191.82,634.87 192.71,633.90 193.61,633.24 194.50,633.00 195.39,633.24 196.29,633.90 197.18,634.87 198.07,635.97 198.97,637.04 199.86,637.97 200.76,638.71 201.65,639.23" fill="url(#pk12)"/>
<polygon points="70.51,730.56 85.25,725.34 93.89,727.84 79.16,733.06" fill="#00008c" stroke="#000" stroke-width="1.04" stroke-linejoin="round"/>
<defs><linearGradient id="pk13" x1="0" y1="1" x2="0" y2="0"><stop offset="0.0" stop-color="#0000d0"/><stop offset="0.1" stop-color="#002dff"/><stop offset="0.2" stop-color="#0084ff"/><stop offset="0.3" stop-color="#00dcff"/><stop offset="0.4" stop-color="#00ffbe"/><stop offset="0.5" stop-color="#72ff42"/><stop offset="0.6" stop-color="#ddff01"/><stop offset="0.7" stop-color="#ffb100"/><stop offset="0.8" stop-color="#ff6300"/><stop offset="0.9" stop-color="#ff0e00"/><stop offset="1.0" stop-color="#c00000"/></linearGradient></defs>
<polygon points="76.60,727.75 77.25,726.56 77.90,724.90 78.55,722.78 79.20,720.34 79.85,717.84 80.50,715.65 81.15,714.14 81.80,713.60 82.45,714.14 83.10,715.65 83.75,717.84 84.40,720.34 85.05,722.78 85.70,724.90 86.35,726.56 87.00,727.75" fill="url(#pk13)"/>
<polygon points="88.11,731.56 102.84,726.34 111.49,728.84 96.75,734.06" fill="#00008c" stroke="#000" stroke-width="1.04" stroke-linejoin="round"/>
<defs><linearGradient id="pk14" x1="0" y1="1" x2="0" y2="0"><stop offset="0.0" stop-color="#0000d0"/><stop offset="0.1" stop-color="#0032ff"/><stop offset="0.2" stop-color="#008dff"/><stop offset="0.3" stop-color="#00e9ff"/><stop offset="0.4" stop-color="#00ff9b"/><stop offset="0.5" stop-color="#90ff28"/><stop offset="0.6" stop-color="#fff200"/><stop offset="0.7" stop-color="#ff9300"/><stop offset="0.8" stop-color="#ff3b00"/><stop offset="0.9" stop-color="#e90000"/><stop offset="1.0" stop-color="#800000"/></linearGradient></defs>
<polygon points="93.88,727.85 94.59,726.06 95.31,723.56 96.02,720.36 96.74,716.67 97.45,712.90 98.17,709.59 98.88,707.31 99.60,706.50 100.31,707.31 101.03,709.59 101.74,712.90 102.46,716.67 103.17,720.36 103.89,723.56 104.60,726.06 105.32,727.85" fill="url(#pk14)"/>
<polygon points="69.11,737.76 83.84,732.54 92.49,735.04 77.75,740.26" fill="#00008c" stroke="#000" stroke-width="1.04" stroke-linejoin="round"/>
<defs><linearGradient id="pk15" x1="0" y1="1" x2="0" y2="0"><stop offset="0.0" stop-color="#0000d0"/><stop offset="0.1" stop-color="#0022ff"/><stop offset="0.2" stop-color="#0071ff"/><stop offset="0.3" stop-color="#00bfff"/><stop offset="0.4" stop-color="#00fff6"/><stop offset="0.5" stop-color="#00ff80"/><stop offset="0.6" stop-color="#92ff27"/><stop offset="0.7" stop-color="#f1f900"/><stop offset="0.8" stop-color="#ffab00"/><stop offset="0.9" stop-color="#ff6600"/><stop offset="1.0" stop-color="#ff1c00"/></linearGradient></defs>
<polygon points="75.00,735.44 75.65,734.73 76.30,733.72 76.95,732.44 77.60,730.97 78.25,729.46 78.90,728.14 79.55,727.23 80.20,726.90 80.85,727.23 81.50,728.14 82.15,729.46 82.80,730.97 83.45,732.44 84.10,733.72 84.75,734.73 85.40,735.44" fill="url(#pk15)"/>
<polygon points="121.51,721.26 136.24,716.04 144.89,718.54 130.16,723.76" fill="#00008c" stroke="#000" stroke-width="1.04" stroke-linejoin="round"/>
<defs><linearGradient id="pk16" x1="0" y1="1" x2="0" y2="0"><stop offset="0.0" stop-color="#0000d0"/><stop offset="0.1" stop-color="#0017ff"/><stop offset="0.2" stop-color="#005dff"/><stop offset="0.3" stop-color="#009cff"/><stop offset="0.4" stop-color="#00e2ff"/><stop offset="0.5" stop-color="#00ffcf"/><stop offset="0.6" stop-color="#1fff61"/><stop offset="0.7" stop-color="#97ff24"/><stop offset="0.8" stop-color="#eefa00"/><stop offset="0.9" stop-color="#ffb900"/><stop offset="1.0" stop-color="#ff7b00"/></linearGradient></defs>
<polygon points="128.25,719.39 128.82,718.98 129.39,718.41 129.96,717.68 130.53,716.83 131.09,715.97 131.66,715.21 132.23,714.69 132.80,714.50 133.37,714.69 133.94,715.21 134.51,715.97 135.08,716.83 135.64,717.68 136.21,718.41 136.78,718.98 137.35,719.39" fill="url(#pk16)"/>
<polygon points="138.91,722.36 153.65,717.14 162.29,719.64 147.56,724.86" fill="#00008c" stroke="#000" stroke-width="1.04" stroke-linejoin="round"/>
<defs><linearGradient id="pk17" x1="0" y1="1" x2="0" y2="0"><stop offset="0.0" stop-color="#0000d0"/><stop offset="0.1" stop-color="#001dff"/><stop offset="0.2" stop-color="#0067ff"/><stop offset="0.3" stop-color="#00acff"/><stop offset="0.4" stop-color="#00f4ff"/><stop offset="0.5" stop-color="#00ffa8"/><stop offset="0.6" stop-color="#6eff43"/><stop offset="0.7" stop-color="#c8ff07"/><stop offset="0.8" stop-color="#ffd900"/><stop offset="0.9" stop-color="#ff9000"/><stop offset="1.0" stop-color="#ff5000"/></linearGradient></defs>
<polygon points="145.36,720.56 145.98,719.93 146.59,719.04 147.21,717.91 147.83,716.60 148.45,715.27 149.06,714.09 149.68,713.29 150.30,713.00 150.92,713.29 151.54,714.09 152.15,715.27 152.77,716.60 153.39,717.91 154.01,719.04 154.62,719.93 155.24,720.56" fill="url(#pk17)"/>
<polygon points="128.31,730.56 143.04,725.34 151.69,727.84 136.95,733.06" fill="#00008c" stroke="#000" stroke-width="1.04" stroke-linejoin="round"/>
<defs><linearGradient id="pk18" x1="0" y1="1" x2="0" y2="0"><stop offset="0.0" stop-color="#0000d0"/><stop offset="0.1" stop-color="#0012ff"/><stop offset="0.2" stop-color="#0054ff"/><stop offset="0.3" stop-color="#008eff"/><stop offset="0.4" stop-color="#00d0ff"/><stop offset="0.5" stop-color="#00fff4"/><stop offset="0.6" stop-color="#00ff95"/><stop offset="0.7" stop-color="#71ff42"/><stop offset="0.8" stop-color="#bdff0d"/><stop offset="0.9" stop-color="#ffec00"/><stop offset="1.0" stop-color="#ffa800"/></linearGradient></defs>
<polygon points="135.25,729.00 135.82,728.67 136.39,728.20 136.96,727.60 137.53,726.91 138.09,726.20 138.66,725.58 139.23,725.15 139.80,725.00 140.37,725.15 140.94,725.58 141.51,726.20 142.08,726.91 142.64,727.60 143.21,728.20 143.78,728.67 144.35,729.00" fill="url(#pk18)"/>
<polygon points="175.11,727.06 189.84,721.84 198.49,724.34 183.75,729.56" fill="#00008c" stroke="#000" stroke-width="1.04" stroke-linejoin="round"/>
<defs><linearGradient id="pk19" x1="0" y1="1" x2="0" y2="0"><stop offset="0.0" stop-color="#0000d0"/><stop offset="0.1" stop-color="#0032ff"/><stop offset="0.2" stop-color="#008dff"/><stop offset="0.3" stop-color="#00e9ff"/><stop offset="0.4" stop-color="#00ff9b"/><stop offset="0.5" stop-color="#90ff28"/><stop offset="0.6" stop-color="#fff200"/><stop offset="0.7" stop-color="#ff9300"/><stop offset="0.8" stop-color="#ff3b00"/><stop offset="0.9" stop-color="#e90000"/><stop offset="1.0" stop-color="#800000"/></linearGradient></defs>
<polygon points="181.04,723.85 181.72,722.40 182.41,720.36 183.09,717.76 183.77,714.76 184.45,711.70 185.13,709.01 185.82,707.16 186.50,706.50 187.18,707.16 187.87,709.01 188.55,711.70 189.23,714.76 189.91,717.76 190.59,720.36 191.28,722.40 191.96,723.85" fill="url(#pk19)"/>
<polygon points="190.31,729.56 205.04,724.34 213.69,726.84 198.95,732.06" fill="#00008c" stroke="#000" stroke-width="1.04" stroke-linejoin="round"/>
<defs><linearGradient id="pk20" x1="0" y1="1" x2="0" y2="0"><stop offset="0.0" stop-color="#0000d0"/><stop offset="0.1" stop-color="#001dff"/><stop offset="0.2" stop-color="#0067ff"/><stop offset="0.3" stop-color="#00acff"/><stop offset="0.4" stop-color="#00f4ff"/><stop offset="0.5" stop-color="#00ffa8"/><stop offset="0.6" stop-color="#6eff43"/><stop offset="0.7" stop-color="#c8ff07"/><stop offset="0.8" stop-color="#ffd900"/><stop offset="0.9" stop-color="#ff9000"/><stop offset="1.0" stop-color="#ff5000"/></linearGradient></defs>
<polygon points="196.76,727.55 197.38,726.91 197.99,726.01 198.61,724.87 199.23,723.54 199.85,722.19 200.46,721.01 201.08,720.19 201.70,719.90 202.32,720.19 202.94,721.01 203.55,722.19 204.17,723.54 204.79,724.87 205.41,726.01 206.02,726.91 206.64,727.55" fill="url(#pk20)"/>
<polygon points="174.31,736.56 189.04,731.34 197.69,733.84 182.95,739.06" fill="#00008c" stroke="#000" stroke-width="1.04" stroke-linejoin="round"/>
<defs><linearGradient id="pk21" x1="0" y1="1" x2="0" y2="0"><stop offset="0.0" stop-color="#0000d0"/><stop offset="0.1" stop-color="#0027ff"/><stop offset="0.2" stop-color="#007aff"/><stop offset="0.3" stop-color="#00ceff"/><stop offset="0.4" stop-color="#00ffd8"/><stop offset="0.5" stop-color="#3cff56"/><stop offset="0.6" stop-color="#b6ff12"/><stop offset="0.7" stop-color="#ffdb00"/><stop offset="0.8" stop-color="#ff8800"/><stop offset="0.9" stop-color="#ff3a00"/><stop offset="1.0" stop-color="#f00000"/></linearGradient></defs>
<polygon points="180.60,733.90 181.25,732.82 181.90,731.31 182.55,729.37 183.20,727.14 183.85,724.87 184.50,722.87 185.15,721.49 185.80,721.00 186.45,721.49 187.10,722.87 187.75,724.87 188.40,727.14 189.05,729.37 189.70,731.31 190.35,732.82 191.00,733.90" fill="url(#pk21)"/>
<text x="353.2" y="488.4" font-size="10" text-anchor="middle">Context Prediction</text>
<text x="285.9" y="502.8" font-size="8" text-anchor="middle">Context A</text>
<text x="341.8" y="502.8" font-size="8" text-anchor="middle">Context B</text>
<polygon points="257.8,506.6 265.6,513.8000000000001 265.6,570.1 257.8,577.6" fill="#000"/>
<polygon points="257.8,506.6 308.3,506.6 301.0,513.8000000000001 265.6,513.8000000000001" fill="#000"/>
<polygon points="260.1,507.6 264.6,507.6 267.0,512.0 263.8,512.0" fill="#fff"/>
<polygon points="272.8,507.6 277.3,507.6 277.3,512.0 274.0,512.0" fill="#fff"/>
<polygon points="287.1,507.6 291.6,507.6 290.4,512.0 287.1,512.0" fill="#fff"/>
<polygon points="299.8,507.6 305.5,507.6 301.4,512.0 298.1,512.0" fill="#fff"/>
<polygon points="308.3,506.6 308.3,577.6 301.0,570.1 301.0,513.8000000000001" fill="#fff" stroke="#000" stroke-width="0.9"/>
<polygon points="257.8,577.6 308.3,577.6 301.0,570.1 265.6,570.1" fill="#fff" stroke="#000" stroke-width="0.9"/>
<rect x="265.6" y="513.8000000000001" width="35.40" height="56.30" fill="#c6c6c6" stroke="#000" stroke-width="0.9"/>
<polygon points="265.6,570.1 276.00,570.1 301.0,523.00 301.0,513.8000000000001 290.20,513.8000000000001 265.6,559.90" fill="#5cb8b1"/>
<circle cx="272.60" cy="520.00" r="4.1" fill="#f2f2f2" stroke="#000" stroke-width="1.2"/>
<text x="272.6" y="522.2" font-size="6.2" text-anchor="middle" font-weight="bold" fill="#000">N</text>
<circle cx="293.60" cy="520.00" r="4.1" fill="#f2f2f2" stroke="#000" stroke-width="1.2"/>
<text x="293.6" y="522.2" font-size="6.2" text-anchor="middle" font-weight="bold" fill="#000">C</text>
<circle cx="272.60" cy="563.10" r="4.1" fill="#f2f2f2" stroke="#000" stroke-width="1.2"/>
<text x="272.6" y="565.3000000000001" font-size="6.2" text-anchor="middle" font-weight="bold" fill="#000">G</text>
<circle cx="293.60" cy="563.10" r="4.1" fill="#f2f2f2" stroke="#000" stroke-width="1.2"/>
<text x="293.6" y="565.3000000000001" font-size="6.2" text-anchor="middle" font-weight="bold" fill="#000">F</text>
<polygon points="316.3,506.6 324.1,513.8000000000001 324.1,570.1 316.3,577.6" fill="#fff" stroke="#000" stroke-width="0.9"/>
<polygon points="316.3,506.6 366.8,506.6 359.5,513.8000000000001 324.1,513.8000000000001" fill="#000"/>
<polygon points="366.8,506.6 366.8,577.6 359.5,570.1 359.5,513.8000000000001" fill="#000"/>
<polygon points="316.3,577.6 366.8,577.6 359.5,570.1 324.1,570.1" fill="#000"/>
<path d="M319.3,509.0H363.8M323.1,511.6H360.5" stroke="#fff" stroke-width="1.2"/>
<path d="M361.7,514.8V574.1M364.6,510.6V574.6" stroke="#fff" stroke-width="1.1" stroke-dasharray="4.2,1.8"/>
<rect x="319.3" y="530.6" width="2.6" height="22" rx="1.2" fill="#000"/>
<rect x="324.1" y="513.8000000000001" width="35.40" height="56.30" fill="#c6c6c6" stroke="#000" stroke-width="0.9"/>
<polygon points="324.1,513.8000000000001 334.80,513.8000000000001 359.5,561.70 359.5,570.1 348.50,570.1 324.1,523.50" fill="#e8625f"/>
<circle cx="331.10" cy="520.00" r="4.1" fill="#f2f2f2" stroke="#000" stroke-width="1.2"/>
<text x="331.1" y="522.2" font-size="6.2" text-anchor="middle" font-weight="bold" fill="#000">C</text>
<circle cx="352.10" cy="520.00" r="4.1" fill="#f2f2f2" stroke="#000" stroke-width="1.2"/>
<text x="352.1" y="522.2" font-size="6.2" text-anchor="middle" font-weight="bold" fill="#000">N</text>
<circle cx="331.10" cy="563.10" r="4.1" fill="#f2f2f2" stroke="#000" stroke-width="1.2"/>
<text x="331.1" y="565.3000000000001" font-size="6.2" text-anchor="middle" font-weight="bold" fill="#000">F</text>
<circle cx="352.10" cy="563.10" r="4.1" fill="#f2f2f2" stroke="#000" stroke-width="1.2"/>
<text x="352.1" y="565.3000000000001" font-size="6.2" text-anchor="middle" font-weight="bold" fill="#000">G</text>
<text x="410.3" y="526.0" font-size="8" text-anchor="middle">Class A:</text>
<text x="410.6" y="535.9" font-size="8" text-anchor="middle">Context A C/G Trials</text>
<text x="410.3" y="551.5" font-size="8" text-anchor="middle">Class B:</text>
<text x="410.6" y="561.1" font-size="8" text-anchor="middle">Context B C/G Trials</text>
<text x="575.0" y="487.4" font-size="10" text-anchor="middle">Heading Prediction</text>
<text x="530.8" y="501.2" font-size="8" text-anchor="middle">Rewarded Side Dig</text>
<polygon points="482.2,505.4 490.0,512.6 490.0,568.9 482.2,576.4" fill="#000"/>
<polygon points="482.2,505.4 532.7,505.4 525.4000000000001,512.6 490.0,512.6" fill="#000"/>
<polygon points="484.5,506.4 489.0,506.4 491.4,510.8 488.2,510.8" fill="#fff"/>
<polygon points="497.2,506.4 501.7,506.4 501.7,510.8 498.4,510.8" fill="#fff"/>
<polygon points="511.5,506.4 516.0,506.4 514.8,510.8 511.5,510.8" fill="#fff"/>
<polygon points="524.2,506.4 529.9,506.4 525.8,510.8 522.5,510.8" fill="#fff"/>
<polygon points="532.7,505.4 532.7,576.4 525.4000000000001,568.9 525.4000000000001,512.6" fill="#fff" stroke="#000" stroke-width="0.9"/>
<polygon points="482.2,576.4 532.7,576.4 525.4000000000001,568.9 490.0,568.9" fill="#fff" stroke="#000" stroke-width="0.9"/>
<rect x="490.0" y="512.6" width="35.40" height="56.30" fill="#c6c6c6" stroke="#000" stroke-width="0.9"/>
<rect x="511.50" y="512.80" width="13" height="12" fill="#5cb8b1"/>
<rect x="490.30" y="556.00" width="13" height="12" fill="#e8625f"/>
<circle cx="497.00" cy="518.80" r="4.1" fill="#f2f2f2" stroke="#000" stroke-width="1.2"/>
<text x="497.0" y="521.0" font-size="6.2" text-anchor="middle" font-weight="bold" fill="#000">N</text>
<circle cx="518.00" cy="518.80" r="4.1" fill="#f2f2f2" stroke="#000" stroke-width="1.2"/>
<text x="518.0" y="521.0" font-size="6.2" text-anchor="middle" font-weight="bold" fill="#000">C</text>
<circle cx="497.00" cy="561.90" r="4.1" fill="#f2f2f2" stroke="#000" stroke-width="1.2"/>
<text x="497.0" y="564.1" font-size="6.2" text-anchor="middle" font-weight="bold" fill="#000">G</text>
<circle cx="518.00" cy="561.90" r="4.1" fill="#f2f2f2" stroke="#000" stroke-width="1.2"/>
<text x="518.0" y="564.1" font-size="6.2" text-anchor="middle" font-weight="bold" fill="#000">F</text>
<polygon points="540.6,505.4 548.4,512.6 548.4,568.9 540.6,576.4" fill="#fff" stroke="#000" stroke-width="0.9"/>
<polygon points="540.6,505.4 591.1,505.4 583.8000000000001,512.6 548.4,512.6" fill="#000"/>
<polygon points="591.1,505.4 591.1,576.4 583.8000000000001,568.9 583.8000000000001,512.6" fill="#000"/>
<polygon points="540.6,576.4 591.1,576.4 583.8000000000001,568.9 548.4,568.9" fill="#000"/>
<path d="M543.6,507.8H588.1M547.4,510.4H584.8" stroke="#fff" stroke-width="1.2"/>
<path d="M586.0,513.6V572.9M588.9,509.4V573.4" stroke="#fff" stroke-width="1.1" stroke-dasharray="4.2,1.8"/>
<rect x="543.6" y="529.4" width="2.6" height="22" rx="1.2" fill="#000"/>
<rect x="548.4" y="512.6" width="35.40" height="56.30" fill="#c6c6c6" stroke="#000" stroke-width="0.9"/>
<rect x="549.10" y="512.80" width="13" height="12" fill="#5cb8b1"/>
<rect x="570.10" y="556.00" width="13" height="12" fill="#e8625f"/>
<circle cx="555.40" cy="518.80" r="4.1" fill="#f2f2f2" stroke="#000" stroke-width="1.2"/>
<text x="555.4" y="521.0" font-size="6.2" text-anchor="middle" font-weight="bold" fill="#000">C</text>
<circle cx="576.40" cy="518.80" r="4.1" fill="#f2f2f2" stroke="#000" stroke-width="1.2"/>
<text x="576.4" y="521.0" font-size="6.2" text-anchor="middle" font-weight="bold" fill="#000">N</text>
<circle cx="555.40" cy="561.90" r="4.1" fill="#f2f2f2" stroke="#000" stroke-width="1.2"/>
<text x="555.4" y="564.1" font-size="6.2" text-anchor="middle" font-weight="bold" fill="#000">F</text>
<circle cx="576.40" cy="561.90" r="4.1" fill="#f2f2f2" stroke="#000" stroke-width="1.2"/>
<text x="576.4" y="564.1" font-size="6.2" text-anchor="middle" font-weight="bold" fill="#000">G</text>
<text x="530.8" y="587.6" font-size="8" text-anchor="middle">Geo Side Dig</text>
<text x="643.6" y="526.0" font-size="8.2" text-anchor="end">Class A:</text>
<text x="643.6" y="535.5" font-size="8.2" text-anchor="end">C Trials</text>
<text x="643.6" y="551.2" font-size="8.2" text-anchor="end">Class B:</text>
<text x="643.6" y="560.7" font-size="8.2" text-anchor="end">G Trials</text>
<line x1="291.20" y1="608.00" x2="291.20" y2="733.80" stroke="#333" stroke-width="1" />
<line x1="291.20" y1="733.80" x2="433.30" y2="733.80" stroke="#333" stroke-width="1" />
<line x1="291.20" y1="733.80" x2="293.70" y2="733.80" stroke="#333" stroke-width="0.8" />
<text x="285.0" y="736.8" font-size="8.5" text-anchor="end">0</text>
<line x1="291.20" y1="721.22" x2="293.70" y2="721.22" stroke="#333" stroke-width="0.8" />
<text x="285.0" y="724.2199999999999" font-size="8.5" text-anchor="end">10</text>
<line x1="291.20" y1="708.64" x2="293.70" y2="708.64" stroke="#333" stroke-width="0.8" />
<text x="285.0" y="711.64" font-size="8.5" text-anchor="end">20</text>
<line x1="291.20" y1="696.06" x2="293.70" y2="696.06" stroke="#333" stroke-width="0.8" />
<text x="285.0" y="699.06" font-size="8.5" text-anchor="end">30</text>
<line x1="291.20" y1="683.48" x2="293.70" y2="683.48" stroke="#333" stroke-width="0.8" />
<text x="285.0" y="686.4799999999999" font-size="8.5" text-anchor="end">40</text>
<line x1="291.20" y1="670.90" x2="293.70" y2="670.90" stroke="#333" stroke-width="0.8" />
<text x="285.0" y="673.9" font-size="8.5" text-anchor="end">50</text>
<line x1="291.20" y1="658.32" x2="293.70" y2="658.32" stroke="#333" stroke-width="0.8" />
<text x="285.0" y="661.3199999999999" font-size="8.5" text-anchor="end">60</text>
<line x1="291.20" y1="645.74" x2="293.70" y2="645.74" stroke="#333" stroke-width="0.8" />
<text x="285.0" y="648.74" font-size="8.5" text-anchor="end">70</text>
<line x1="291.20" y1="633.16" x2="293.70" y2="633.16" stroke="#333" stroke-width="0.8" />
<text x="285.0" y="636.16" font-size="8.5" text-anchor="end">80</text>
<line x1="291.20" y1="620.58" x2="293.70" y2="620.58" stroke="#333" stroke-width="0.8" />
<text x="285.0" y="623.5799999999999" font-size="8.5" text-anchor="end">90</text>
<line x1="291.20" y1="608.00" x2="293.70" y2="608.00" stroke="#333" stroke-width="0.8" />
<text x="285.0" y="611.0" font-size="8.5" text-anchor="end">100</text>
<rect x="317.00" y="665.20" width="25.50" height="68.60" fill="#d596d6" stroke="#555" stroke-width="0.7"/>
<rect x="349.30" y="652.80" width="25.90" height="81.00" fill="#a42ca8" stroke="#555" stroke-width="0.7"/>
<rect x="382.00" y="642.50" width="25.20" height="91.30" fill="#6a0a70" stroke="#555" stroke-width="0.7"/>
<line x1="292.7" y1="663.7" x2="426.5" y2="663.7" stroke="#444" stroke-width="1" stroke-dasharray="4,2.6"/>
<line x1="330.00" y1="661.00" x2="330.00" y2="669.00" stroke="#333" stroke-width="0.8" />
<line x1="328.50" y1="661.00" x2="331.50" y2="661.00" stroke="#333" stroke-width="0.8" />
<line x1="362.20" y1="644.00" x2="362.20" y2="662.00" stroke="#333" stroke-width="0.8" />
<line x1="360.70" y1="644.00" x2="363.70" y2="644.00" stroke="#333" stroke-width="0.8" />
<line x1="394.60" y1="638.50" x2="394.60" y2="648.70" stroke="#333" stroke-width="0.8" />
<line x1="393.10" y1="638.50" x2="396.10" y2="638.50" stroke="#333" stroke-width="0.8" />
<circle cx="322.3" cy="659.0" r="2.1" fill="none" stroke="#333" stroke-width="0.7"/>
<circle cx="328.5" cy="659.0" r="2.1" fill="none" stroke="#333" stroke-width="0.7"/>
<circle cx="335.4" cy="659.0" r="2.1" fill="none" stroke="#333" stroke-width="0.7"/>
<circle cx="325.4" cy="664.3" r="2.1" fill="none" stroke="#333" stroke-width="0.7"/>
<circle cx="335.7" cy="664.3" r="2.1" fill="none" stroke="#333" stroke-width="0.7"/>
<circle cx="330.0" cy="671.4" r="2.1" fill="none" stroke="#333" stroke-width="0.7"/>
<circle cx="330.0" cy="680.5" r="2.1" fill="none" stroke="#333" stroke-width="0.7"/>
<circle cx="361.8" cy="609.0" r="2.1" fill="none" stroke="#333" stroke-width="0.7"/>
<circle cx="360.8" cy="655.9" r="2.1" fill="none" stroke="#333" stroke-width="0.7"/>
<circle cx="358.0" cy="662.0" r="2.1" fill="none" stroke="#333" stroke-width="0.7"/>
<circle cx="357.0" cy="665.8" r="2.1" fill="none" stroke="#333" stroke-width="0.7"/>
<circle cx="369.6" cy="655.9" r="2.1" fill="none" stroke="#333" stroke-width="0.7"/>
<circle cx="366.4" cy="671.4" r="2.1" fill="none" stroke="#333" stroke-width="0.7"/>
<circle cx="392.3" cy="624.5" r="2.1" fill="none" stroke="#333" stroke-width="0.7"/>
<circle cx="385.4" cy="640.3" r="2.1" fill="none" stroke="#333" stroke-width="0.7"/>
<circle cx="388.5" cy="640.3" r="2.1" fill="none" stroke="#333" stroke-width="0.7"/>
<circle cx="402.2" cy="643.1" r="2.1" fill="none" stroke="#333" stroke-width="0.7"/>
<circle cx="392.3" cy="654.0" r="2.1" fill="none" stroke="#333" stroke-width="0.7"/>
<circle cx="399.1" cy="655.9" r="2.1" fill="none" stroke="#333" stroke-width="0.7"/>
<text x="330.0" y="745.6" font-size="9.2" text-anchor="middle">Day 1</text>
<text x="362.7" y="745.6" font-size="9.2" text-anchor="middle">Day 2</text>
<text x="394.7" y="745.6" font-size="9.2" text-anchor="middle">Day 3</text>
<path d="M362.00,599.00L362.00,597.00M362.00,599.00L363.90,598.38M362.00,599.00L363.18,600.62M362.00,599.00L360.82,600.62M362.00,599.00L360.10,598.38" stroke="#111" stroke-width="1.0" stroke-linecap="round"/>
<path d="M394.40,599.00L394.40,597.00M394.40,599.00L396.30,598.38M394.40,599.00L395.58,600.62M394.40,599.00L393.22,600.62M394.40,599.00L392.50,598.38" stroke="#111" stroke-width="1.0" stroke-linecap="round"/>
<text x="273.0" y="671.0" font-size="10.2" text-anchor="middle" transform="rotate(-90 273.0 671.0)">Percent Trials Predicted</text>
<circle cx="376.0" cy="755.4" r="2" fill="none" stroke="#333" stroke-width="0.7"/>
<text x="382.3" y="758.0" font-size="7.3">individual mouse data</text>
<line x1="520.20" y1="609.10" x2="520.20" y2="734.50" stroke="#333" stroke-width="1" />
<line x1="520.20" y1="734.50" x2="661.90" y2="734.50" stroke="#333" stroke-width="1" />
<line x1="520.20" y1="734.50" x2="522.70" y2="734.50" stroke="#333" stroke-width="0.8" />
<text x="514.0" y="737.5" font-size="8.5" text-anchor="end">0</text>
<line x1="520.20" y1="721.96" x2="522.70" y2="721.96" stroke="#333" stroke-width="0.8" />
<text x="514.0" y="724.96" font-size="8.5" text-anchor="end">10</text>
<line x1="520.20" y1="709.42" x2="522.70" y2="709.42" stroke="#333" stroke-width="0.8" />
<text x="514.0" y="712.42" font-size="8.5" text-anchor="end">20</text>
<line x1="520.20" y1="696.88" x2="522.70" y2="696.88" stroke="#333" stroke-width="0.8" />
<text x="514.0" y="699.88" font-size="8.5" text-anchor="end">30</text>
<line x1="520.20" y1="684.34" x2="522.70" y2="684.34" stroke="#333" stroke-width="0.8" />
<text x="514.0" y="687.34" font-size="8.5" text-anchor="end">40</text>
<line x1="520.20" y1="671.80" x2="522.70" y2="671.80" stroke="#333" stroke-width="0.8" />
<text x="514.0" y="674.8" font-size="8.5" text-anchor="end">50</text>
<line x1="520.20" y1="659.26" x2="522.70" y2="659.26" stroke="#333" stroke-width="0.8" />
<text x="514.0" y="662.26" font-size="8.5" text-anchor="end">60</text>
<line x1="520.20" y1="646.72" x2="522.70" y2="646.72" stroke="#333" stroke-width="0.8" />
<text x="514.0" y="649.72" font-size="8.5" text-anchor="end">70</text>
<line x1="520.20" y1="634.18" x2="522.70" y2="634.18" stroke="#333" stroke-width="0.8" />
<text x="514.0" y="637.1800000000001" font-size="8.5" text-anchor="end">80</text>
<line x1="520.20" y1="621.64" x2="522.70" y2="621.64" stroke="#333" stroke-width="0.8" />
<text x="514.0" y="624.64" font-size="8.5" text-anchor="end">90</text>
<line x1="520.20" y1="609.10" x2="522.70" y2="609.10" stroke="#333" stroke-width="0.8" />
<text x="514.0" y="612.1" font-size="8.5" text-anchor="end">100</text>
<rect x="546.20" y="662.10" width="25.40" height="72.40" fill="#d596d6" stroke="#555" stroke-width="0.7"/>
<rect x="578.00" y="642.20" width="26.00" height="92.30" fill="#a42ca8" stroke="#555" stroke-width="0.7"/>
<rect x="610.50" y="651.80" width="26.30" height="82.70" fill="#6a0a70" stroke="#555" stroke-width="0.7"/>
<line x1="521.0" y1="666.2" x2="653.8" y2="666.2" stroke="#444" stroke-width="1" stroke-dasharray="4,2.6"/>
<line x1="559.00" y1="652.40" x2="559.00" y2="673.30" stroke="#333" stroke-width="0.8" />
<line x1="557.50" y1="652.40" x2="560.50" y2="652.40" stroke="#333" stroke-width="0.8" />
<line x1="591.00" y1="634.80" x2="591.00" y2="648.60" stroke="#333" stroke-width="0.8" />
<line x1="589.50" y1="634.80" x2="592.50" y2="634.80" stroke="#333" stroke-width="0.8" />
<line x1="623.30" y1="644.40" x2="623.30" y2="655.00" stroke="#333" stroke-width="0.8" />
<line x1="621.80" y1="644.40" x2="624.80" y2="644.40" stroke="#333" stroke-width="0.8" />
<circle cx="562.0" cy="641.2" r="2.1" fill="none" stroke="#333" stroke-width="0.7"/>
<circle cx="556.5" cy="645.4" r="2.1" fill="none" stroke="#333" stroke-width="0.7"/>
<circle cx="554.3" cy="651.5" r="2.1" fill="none" stroke="#333" stroke-width="0.7"/>
<circle cx="564.5" cy="651.5" r="2.1" fill="none" stroke="#333" stroke-width="0.7"/>
<circle cx="552.3" cy="659.8" r="2.1" fill="none" stroke="#333" stroke-width="0.7"/>
<circle cx="563.6" cy="665.3" r="2.1" fill="none" stroke="#333" stroke-width="0.7"/>
<circle cx="557.5" cy="722.4" r="2.1" fill="none" stroke="#333" stroke-width="0.7"/>
<circle cx="591.8" cy="609.7" r="2.1" fill="none" stroke="#333" stroke-width="0.7"/>
<circle cx="587.0" cy="641.2" r="2.1" fill="none" stroke="#333" stroke-width="0.7"/>
<circle cx="598.9" cy="641.2" r="2.1" fill="none" stroke="#333" stroke-width="0.7"/>
<circle cx="591.2" cy="645.4" r="2.1" fill="none" stroke="#333" stroke-width="0.7"/>
<circle cx="586.0" cy="655.0" r="2.1" fill="none" stroke="#333" stroke-width="0.7"/>
<circle cx="596.7" cy="659.8" r="2.1" fill="none" stroke="#333" stroke-width="0.7"/>
<circle cx="625.6" cy="625.1" r="2.1" fill="none" stroke="#333" stroke-width="0.7"/>
<circle cx="624.0" cy="643.8" r="2.1" fill="none" stroke="#333" stroke-width="0.7"/>
<circle cx="616.6" cy="655.0" r="2.1" fill="none" stroke="#333" stroke-width="0.7"/>
<circle cx="625.6" cy="656.3" r="2.1" fill="none" stroke="#333" stroke-width="0.7"/>
<circle cx="631.0" cy="656.3" r="2.1" fill="none" stroke="#333" stroke-width="0.7"/>
<circle cx="621.7" cy="671.7" r="2.1" fill="none" stroke="#333" stroke-width="0.7"/>
<text x="558.8" y="746.5" font-size="9.2" text-anchor="middle">Day 1</text>
<text x="591.2" y="746.5" font-size="9.2" text-anchor="middle">Day 2</text>
<text x="623.3" y="746.5" font-size="9.2" text-anchor="middle">Day 3</text>
<path d="M591.20,603.30L591.20,601.30M591.20,603.30L593.10,602.68M591.20,603.30L592.38,604.92M591.20,603.30L590.02,604.92M591.20,603.30L589.30,602.68" stroke="#111" stroke-width="1.0" stroke-linecap="round"/>
<path d="M623.30,603.30L623.30,601.30M623.30,603.30L625.20,602.68M623.30,603.30L624.48,604.92M623.30,603.30L622.12,604.92M623.30,603.30L621.40,602.68" stroke="#111" stroke-width="1.0" stroke-linecap="round"/>
<text x="496.0" y="673.0" font-size="10.2" text-anchor="middle" transform="rotate(-90 496.0 673.0)">Percent Trials Predicted</text>
<circle cx="605.3" cy="754.6" r="2" fill="none" stroke="#333" stroke-width="0.7"/>
<text x="611.5999999999999" y="757.2" font-size="7.3">individual mouse data</text>
</svg>
</body></html>
